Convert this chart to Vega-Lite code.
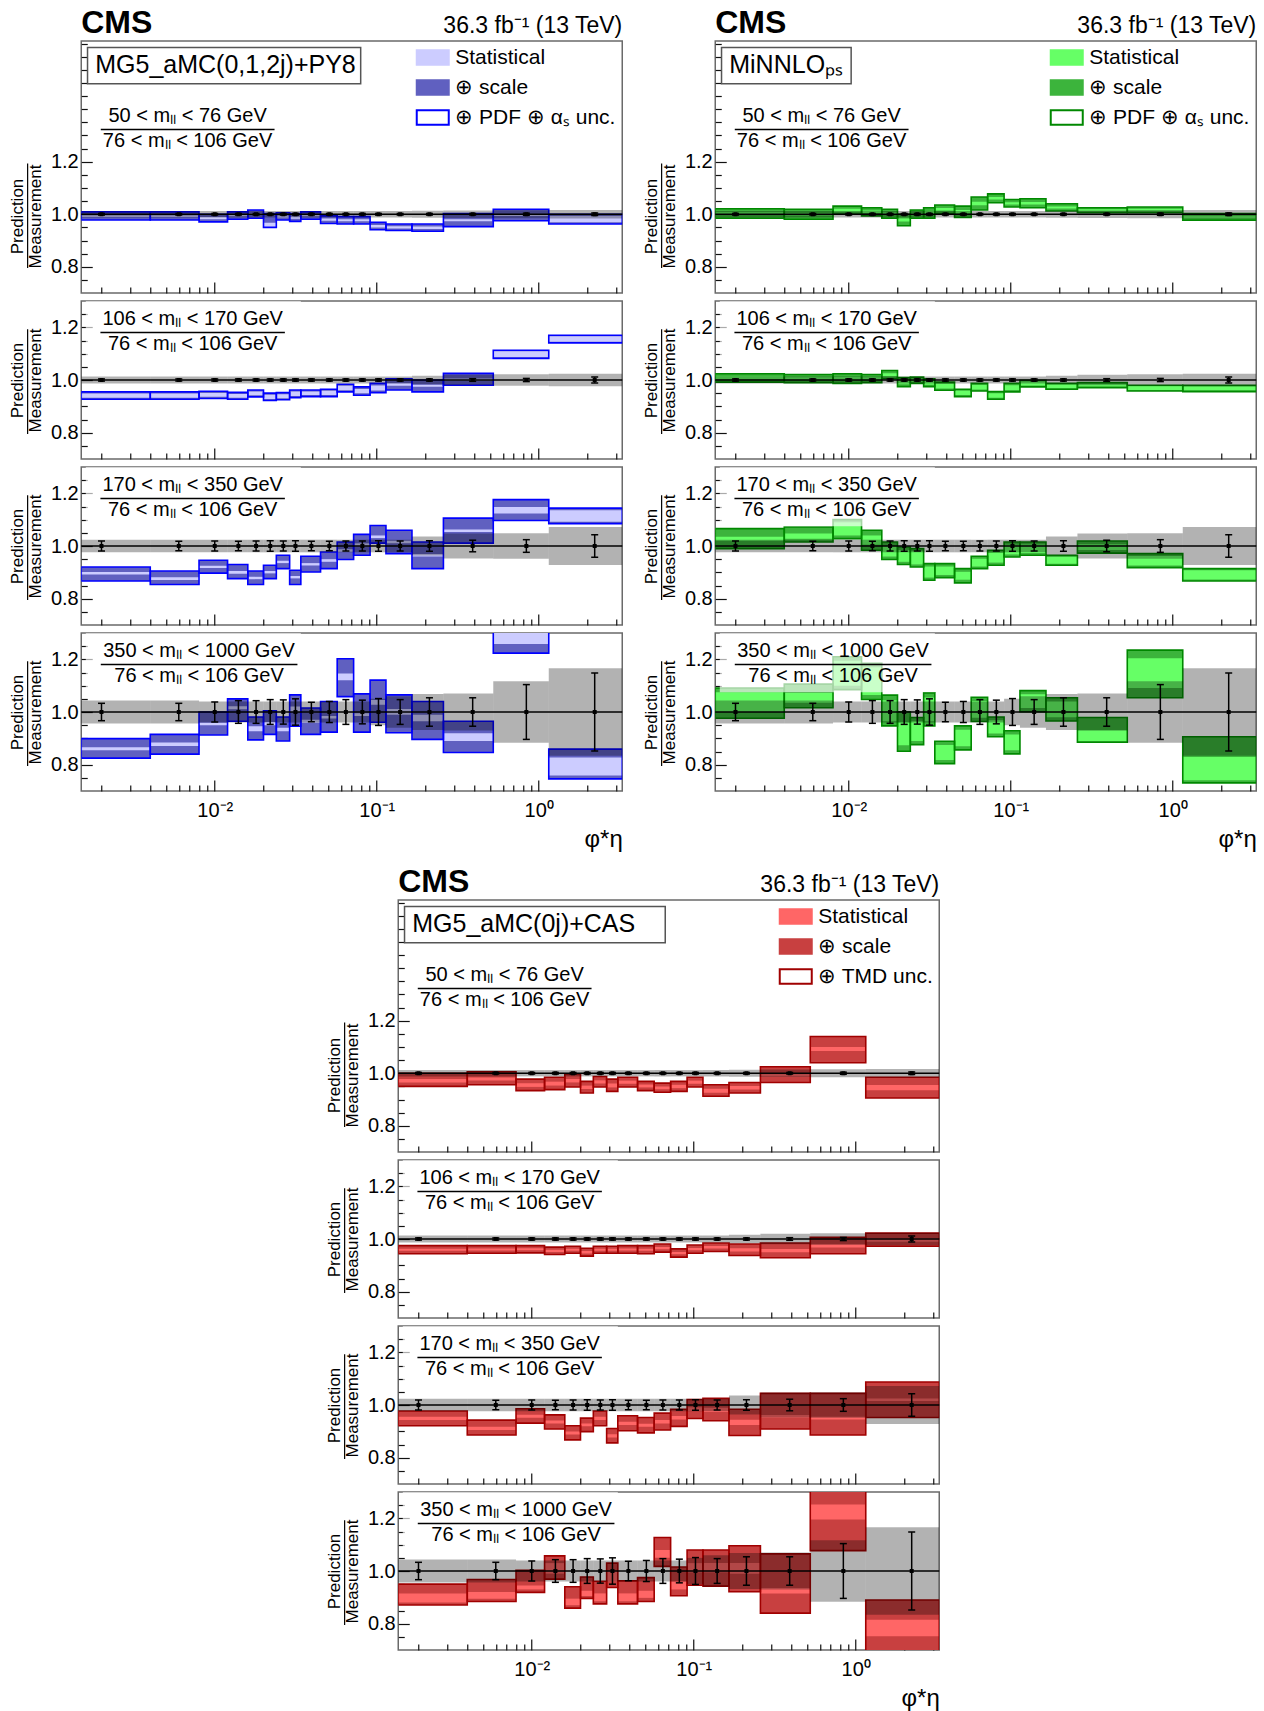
{
"$schema": "https://vega.github.io/schema/vega-lite/v6.json",
"background": "white",
"padding": {"left": 7, "top": 6, "right": 2, "bottom": 0},
"config": {
  "font": "Liberation Sans",
  "view": {"stroke": "#6a6a6a", "strokeWidth": 1.5},
  "axis": {"domain": false, "grid": false, "tickColor": "#111111", "tickWidth": 1.2, "labelColor": "#000000", "titleColor": "#000000", "titleFontWeight": "normal", "labelFont": "Liberation Sans", "titleFont": "Liberation Sans", "labelOverlap": false, "labelFlush": false},
  "legend": {"orient": "top-right", "offset": 6, "padding": 0, "labelFont": "Liberation Sans", "labelFontSize": 21, "labelColor": "#000000", "symbolType": "M-2,-0.9H2V0.9H-2Z", "symbolSize": 256, "symbolStrokeWidth": 2, "labelOffset": 12, "rowPadding": 7, "labelLimit": 400}
},
"datasets": {
"bins": [
{"b":1,"x1":0.0015,"x2":0.004,"xc":0.002},{"b":2,"x1":0.004,"x2":0.008,"xc":0.006},{"b":3,"x1":0.008,"x2":0.012,"xc":0.01},{"b":4,"x1":0.012,"x2":0.016,"xc":0.014},{"b":5,"x1":0.016,"x2":0.02,"xc":0.018},{"b":6,"x1":0.02,"x2":0.024,"xc":0.022},{"b":7,"x1":0.024,"x2":0.029,"xc":0.0265},{"b":8,"x1":0.029,"x2":0.034,"xc":0.0315},{"b":9,"x1":0.034,"x2":0.045,"xc":0.0395},{"b":10,"x1":0.045,"x2":0.057,"xc":0.051},{"b":11,"x1":0.057,"x2":0.072,"xc":0.0645},{"b":12,"x1":0.072,"x2":0.091,"xc":0.0815},{"b":13,"x1":0.091,"x2":0.114,"xc":0.1025},{"b":14,"x1":0.114,"x2":0.165,"xc":0.1395},{"b":15,"x1":0.165,"x2":0.258,"xc":0.2115},{"b":16,"x1":0.258,"x2":0.524,"xc":0.391},{"b":17,"x1":0.524,"x2":1.153,"xc":0.8385},{"b":18,"x1":1.153,"x2":3.277,"xc":2.215}
],
"meas": [
{"s":1,"b":1,"g1":0.988,"g2":1.012,"e1":0.997,"e2":1.003},{"s":1,"b":2,"g1":0.988,"g2":1.012,"e1":0.997,"e2":1.003},{"s":1,"b":3,"g1":0.988,"g2":1.012,"e1":0.997,"e2":1.003},{"s":1,"b":4,"g1":0.988,"g2":1.012,"e1":0.997,"e2":1.003},{"s":1,"b":5,"g1":0.988,"g2":1.012,"e1":0.997,"e2":1.003},{"s":1,"b":6,"g1":0.988,"g2":1.012,"e1":0.997,"e2":1.003},{"s":1,"b":7,"g1":0.988,"g2":1.012,"e1":0.997,"e2":1.003},{"s":1,"b":8,"g1":0.988,"g2":1.012,"e1":0.997,"e2":1.003},{"s":1,"b":9,"g1":0.988,"g2":1.012,"e1":0.997,"e2":1.003},{"s":1,"b":10,"g1":0.988,"g2":1.012,"e1":0.997,"e2":1.003},{"s":1,"b":11,"g1":0.988,"g2":1.012,"e1":0.997,"e2":1.003},{"s":1,"b":12,"g1":0.988,"g2":1.012,"e1":0.997,"e2":1.003},{"s":1,"b":13,"g1":0.988,"g2":1.012,"e1":0.997,"e2":1.003},{"s":1,"b":14,"g1":0.988,"g2":1.012,"e1":0.997,"e2":1.003},{"s":1,"b":15,"g1":0.987,"g2":1.013,"e1":0.997,"e2":1.003},{"s":1,"b":16,"g1":0.986,"g2":1.014,"e1":0.997,"e2":1.003},{"s":1,"b":17,"g1":0.985,"g2":1.015,"e1":0.996,"e2":1.004},{"s":1,"b":18,"g1":0.984,"g2":1.016,"e1":0.995,"e2":1.005},
{"s":2,"b":1,"g1":0.987,"g2":1.013,"e1":0.996,"e2":1.004},{"s":2,"b":2,"g1":0.987,"g2":1.013,"e1":0.996,"e2":1.004},{"s":2,"b":3,"g1":0.987,"g2":1.013,"e1":0.996,"e2":1.004},{"s":2,"b":4,"g1":0.987,"g2":1.013,"e1":0.996,"e2":1.004},{"s":2,"b":5,"g1":0.987,"g2":1.013,"e1":0.996,"e2":1.004},{"s":2,"b":6,"g1":0.987,"g2":1.013,"e1":0.996,"e2":1.004},{"s":2,"b":7,"g1":0.987,"g2":1.013,"e1":0.996,"e2":1.004},{"s":2,"b":8,"g1":0.987,"g2":1.013,"e1":0.996,"e2":1.004},{"s":2,"b":9,"g1":0.987,"g2":1.013,"e1":0.996,"e2":1.004},{"s":2,"b":10,"g1":0.987,"g2":1.013,"e1":0.996,"e2":1.004},{"s":2,"b":11,"g1":0.987,"g2":1.013,"e1":0.996,"e2":1.004},{"s":2,"b":12,"g1":0.987,"g2":1.013,"e1":0.996,"e2":1.004},{"s":2,"b":13,"g1":0.987,"g2":1.013,"e1":0.996,"e2":1.004},{"s":2,"b":14,"g1":0.987,"g2":1.013,"e1":0.996,"e2":1.004},{"s":2,"b":15,"g1":0.984,"g2":1.016,"e1":0.996,"e2":1.004},{"s":2,"b":16,"g1":0.98,"g2":1.02,"e1":0.995,"e2":1.005},{"s":2,"b":17,"g1":0.978,"g2":1.022,"e1":0.994,"e2":1.006},{"s":2,"b":18,"g1":0.976,"g2":1.024,"e1":0.989,"e2":1.011},
{"s":3,"b":1,"g1":0.976,"g2":1.024,"e1":0.981,"e2":1.019},{"s":3,"b":2,"g1":0.976,"g2":1.024,"e1":0.982,"e2":1.018},{"s":3,"b":3,"g1":0.976,"g2":1.024,"e1":0.981,"e2":1.019},{"s":3,"b":4,"g1":0.976,"g2":1.024,"e1":0.982,"e2":1.018},{"s":3,"b":5,"g1":0.976,"g2":1.024,"e1":0.981,"e2":1.019},{"s":3,"b":6,"g1":0.976,"g2":1.024,"e1":0.98,"e2":1.02},{"s":3,"b":7,"g1":0.976,"g2":1.024,"e1":0.981,"e2":1.019},{"s":3,"b":8,"g1":0.976,"g2":1.024,"e1":0.98,"e2":1.02},{"s":3,"b":9,"g1":0.976,"g2":1.024,"e1":0.982,"e2":1.018},{"s":3,"b":10,"g1":0.976,"g2":1.024,"e1":0.982,"e2":1.018},{"s":3,"b":11,"g1":0.976,"g2":1.024,"e1":0.981,"e2":1.019},{"s":3,"b":12,"g1":0.976,"g2":1.024,"e1":0.981,"e2":1.019},{"s":3,"b":13,"g1":0.976,"g2":1.024,"e1":0.98,"e2":1.02},{"s":3,"b":14,"g1":0.976,"g2":1.024,"e1":0.981,"e2":1.019},{"s":3,"b":15,"g1":0.964,"g2":1.036,"e1":0.98,"e2":1.02},{"s":3,"b":16,"g1":0.953,"g2":1.047,"e1":0.978,"e2":1.022},{"s":3,"b":17,"g1":0.952,"g2":1.048,"e1":0.976,"e2":1.024},{"s":3,"b":18,"g1":0.928,"g2":1.072,"e1":0.957,"e2":1.043},
{"s":4,"b":1,"g1":0.956,"g2":1.044,"e1":0.967,"e2":1.033},{"s":4,"b":2,"g1":0.956,"g2":1.044,"e1":0.967,"e2":1.033},{"s":4,"b":3,"g1":0.96,"g2":1.04,"e1":0.962,"e2":1.038},{"s":4,"b":4,"g1":0.96,"g2":1.04,"e1":0.957,"e2":1.043},{"s":4,"b":5,"g1":0.96,"g2":1.04,"e1":0.957,"e2":1.043},{"s":4,"b":6,"g1":0.96,"g2":1.04,"e1":0.953,"e2":1.047},{"s":4,"b":7,"g1":0.96,"g2":1.04,"e1":0.954,"e2":1.046},{"s":4,"b":8,"g1":0.96,"g2":1.04,"e1":0.95,"e2":1.05},{"s":4,"b":9,"g1":0.96,"g2":1.04,"e1":0.963,"e2":1.037},{"s":4,"b":10,"g1":0.96,"g2":1.04,"e1":0.96,"e2":1.04},{"s":4,"b":11,"g1":0.96,"g2":1.04,"e1":0.953,"e2":1.047},{"s":4,"b":12,"g1":0.96,"g2":1.04,"e1":0.955,"e2":1.045},{"s":4,"b":13,"g1":0.95,"g2":1.05,"e1":0.949,"e2":1.051},{"s":4,"b":14,"g1":0.94,"g2":1.06,"e1":0.953,"e2":1.047},{"s":4,"b":15,"g1":0.932,"g2":1.068,"e1":0.946,"e2":1.054},{"s":4,"b":16,"g1":0.93,"g2":1.07,"e1":0.946,"e2":1.054},{"s":4,"b":17,"g1":0.883,"g2":1.117,"e1":0.896,"e2":1.104},{"s":4,"b":18,"g1":0.834,"g2":1.166,"e1":0.852,"e2":1.148}
],
"pred": [
{"p":1,"s":1,"b":1,"t1":0.978,"t2":1.009,"a1":0.99,"a2":0.996},{"p":1,"s":1,"b":2,"t1":0.978,"t2":1.009,"a1":0.99,"a2":0.996},{"p":1,"s":1,"b":3,"t1":0.971,"t2":1.0,"a1":0.981,"a2":0.99},{"p":1,"s":1,"b":4,"t1":0.981,"t2":1.009,"a1":0.992,"a2":0.998},{"p":1,"s":1,"b":5,"t1":0.985,"t2":1.016,"a1":0.997,"a2":1.004},{"p":1,"s":1,"b":6,"t1":0.95,"t2":1.003,"a1":0.951,"a2":0.968},{"p":1,"s":1,"b":7,"t1":0.978,"t2":1.006,"a1":0.988,"a2":0.995},{"p":1,"s":1,"b":8,"t1":0.973,"t2":1.003,"a1":0.983,"a2":0.991},{"p":1,"s":1,"b":9,"t1":0.981,"t2":1.009,"a1":0.992,"a2":0.998},{"p":1,"s":1,"b":10,"t1":0.965,"t2":0.994,"a1":0.975,"a2":0.984},{"p":1,"s":1,"b":11,"t1":0.963,"t2":0.991,"a1":0.973,"a2":0.981},{"p":1,"s":1,"b":12,"t1":0.963,"t2":0.991,"a1":0.973,"a2":0.981},{"p":1,"s":1,"b":13,"t1":0.941,"t2":0.969,"a1":0.95,"a2":0.959},{"p":1,"s":1,"b":14,"t1":0.938,"t2":0.963,"a1":0.946,"a2":0.954},{"p":1,"s":1,"b":15,"t1":0.935,"t2":0.963,"a1":0.944,"a2":0.953},{"p":1,"s":1,"b":16,"t1":0.953,"t2":1.003,"a1":0.973,"a2":0.981},{"p":1,"s":1,"b":17,"t1":0.975,"t2":1.019,"a1":0.993,"a2":1.0},{"p":1,"s":1,"b":18,"t1":0.963,"t2":1.0,"a1":0.97,"a2":0.993},
{"p":1,"s":2,"b":1,"t1":0.927,"t2":0.955,"a1":0.933,"a2":0.949},{"p":1,"s":2,"b":2,"t1":0.927,"t2":0.955,"a1":0.933,"a2":0.949},{"p":1,"s":2,"b":3,"t1":0.93,"t2":0.957,"a1":0.936,"a2":0.951},{"p":1,"s":2,"b":4,"t1":0.927,"t2":0.953,"a1":0.933,"a2":0.947},{"p":1,"s":2,"b":5,"t1":0.936,"t2":0.962,"a1":0.942,"a2":0.956},{"p":1,"s":2,"b":6,"t1":0.922,"t2":0.95,"a1":0.928,"a2":0.944},{"p":1,"s":2,"b":7,"t1":0.925,"t2":0.952,"a1":0.931,"a2":0.946},{"p":1,"s":2,"b":8,"t1":0.933,"t2":0.962,"a1":0.939,"a2":0.956},{"p":1,"s":2,"b":9,"t1":0.937,"t2":0.962,"a1":0.943,"a2":0.956},{"p":1,"s":2,"b":10,"t1":0.937,"t2":0.965,"a1":0.943,"a2":0.959},{"p":1,"s":2,"b":11,"t1":0.955,"t2":0.984,"a1":0.961,"a2":0.978},{"p":1,"s":2,"b":12,"t1":0.942,"t2":0.974,"a1":0.95,"a2":0.966},{"p":1,"s":2,"b":13,"t1":0.952,"t2":0.987,"a1":0.96,"a2":0.979},{"p":1,"s":2,"b":14,"t1":0.962,"t2":1.005,"a1":0.978,"a2":0.988},{"p":1,"s":2,"b":15,"t1":0.955,"t2":1.0,"a1":0.974,"a2":0.982},{"p":1,"s":2,"b":16,"t1":0.98,"t2":1.025,"a1":0.998,"a2":1.006},{"p":1,"s":2,"b":17,"t1":1.082,"t2":1.113,"a1":1.086,"a2":1.109},{"p":1,"s":2,"b":18,"t1":1.141,"t2":1.17,"a1":1.145,"a2":1.166},
{"p":1,"s":3,"b":1,"t1":0.867,"t2":0.92,"a1":0.892,"a2":0.901},{"p":1,"s":3,"b":2,"t1":0.854,"t2":0.905,"a1":0.871,"a2":0.881},{"p":1,"s":3,"b":3,"t1":0.897,"t2":0.946,"a1":0.916,"a2":0.925},{"p":1,"s":3,"b":4,"t1":0.876,"t2":0.93,"a1":0.895,"a2":0.905},{"p":1,"s":3,"b":5,"t1":0.854,"t2":0.905,"a1":0.874,"a2":0.883},{"p":1,"s":3,"b":6,"t1":0.876,"t2":0.927,"a1":0.896,"a2":0.905},{"p":1,"s":3,"b":7,"t1":0.914,"t2":0.965,"a1":0.935,"a2":0.944},{"p":1,"s":3,"b":8,"t1":0.854,"t2":0.908,"a1":0.877,"a2":0.886},{"p":1,"s":3,"b":9,"t1":0.901,"t2":0.961,"a1":0.926,"a2":0.935},{"p":1,"s":3,"b":10,"t1":0.914,"t2":0.977,"a1":0.94,"a2":0.95},{"p":1,"s":3,"b":11,"t1":0.949,"t2":1.015,"a1":0.978,"a2":0.988},{"p":1,"s":3,"b":12,"t1":0.965,"t2":1.044,"a1":0.999,"a2":1.01},{"p":1,"s":3,"b":13,"t1":1.011,"t2":1.078,"a1":1.03,"a2":1.04},{"p":1,"s":3,"b":14,"t1":0.971,"t2":1.06,"a1":1.01,"a2":1.02},{"p":1,"s":3,"b":15,"t1":0.914,"t2":1.015,"a1":0.96,"a2":0.97},{"p":1,"s":3,"b":16,"t1":1.011,"t2":1.106,"a1":1.053,"a2":1.063},{"p":1,"s":3,"b":17,"t1":1.097,"t2":1.176,"a1":1.123,"a2":1.148},{"p":1,"s":3,"b":18,"t1":1.085,"t2":1.144,"a1":1.092,"a2":1.136},
{"p":1,"s":4,"b":1,"t1":0.825,"t2":0.899,"a1":0.855,"a2":0.866},{"p":1,"s":4,"b":2,"t1":0.84,"t2":0.915,"a1":0.871,"a2":0.884},{"p":1,"s":4,"b":3,"t1":0.9125,"t2":1.0,"a1":0.95,"a2":0.959},{"p":1,"s":4,"b":4,"t1":0.965,"t2":1.05,"a1":1.01,"a2":1.022},{"p":1,"s":4,"b":5,"t1":0.894,"t2":0.981,"a1":0.927,"a2":0.946},{"p":1,"s":4,"b":6,"t1":0.915,"t2":1.005,"a1":0.95,"a2":0.962},{"p":1,"s":4,"b":7,"t1":0.89,"t2":0.981,"a1":0.927,"a2":0.94},{"p":1,"s":4,"b":8,"t1":0.946,"t2":1.065,"a1":1.0,"a2":1.021},{"p":1,"s":4,"b":9,"t1":0.915,"t2":1.015,"a1":0.959,"a2":0.971},{"p":1,"s":4,"b":10,"t1":0.9235,"t2":1.04,"a1":0.975,"a2":0.985},{"p":1,"s":4,"b":11,"t1":1.0585,"t2":1.2025,"a1":1.121,"a2":1.146},{"p":1,"s":4,"b":12,"t1":0.9235,"t2":1.069,"a1":0.985,"a2":0.995},{"p":1,"s":4,"b":13,"t1":0.961,"t2":1.121,"a1":1.028,"a2":1.046},{"p":1,"s":4,"b":14,"t1":0.921,"t2":1.065,"a1":0.99,"a2":1.011},{"p":1,"s":4,"b":15,"t1":0.896,"t2":1.04,"a1":0.965,"a2":0.99},{"p":1,"s":4,"b":16,"t1":0.846,"t2":0.965,"a1":0.89,"a2":0.919},{"p":1,"s":4,"b":17,"t1":1.2235,"t2":1.36,"a1":1.258,"a2":1.36},{"p":1,"s":4,"b":18,"t1":0.746,"t2":0.859,"a1":0.759,"a2":0.8275},
{"p":2,"s":1,"b":1,"t1":0.985,"t2":1.021,"a1":0.998,"a2":1.008},{"p":2,"s":1,"b":2,"t1":0.981,"t2":1.019,"a1":0.995,"a2":1.005},{"p":2,"s":1,"b":3,"t1":1.0,"t2":1.031,"a1":1.01,"a2":1.021},{"p":2,"s":1,"b":4,"t1":0.994,"t2":1.025,"a1":1.005,"a2":1.014},{"p":2,"s":1,"b":5,"t1":0.985,"t2":1.019,"a1":0.997,"a2":1.007},{"p":2,"s":1,"b":6,"t1":0.956,"t2":1.0,"a1":0.972,"a2":0.984},{"p":2,"s":1,"b":7,"t1":0.985,"t2":1.016,"a1":0.996,"a2":1.005},{"p":2,"s":1,"b":8,"t1":0.985,"t2":1.025,"a1":0.999,"a2":1.011},{"p":2,"s":1,"b":9,"t1":1.0025,"t2":1.035,"a1":1.014,"a2":1.024},{"p":2,"s":1,"b":10,"t1":0.9875,"t2":1.031,"a1":1.003,"a2":1.016},{"p":2,"s":1,"b":11,"t1":1.016,"t2":1.066,"a1":1.034,"a2":1.048},{"p":2,"s":1,"b":12,"t1":1.044,"t2":1.0775,"a1":1.056,"a2":1.066},{"p":2,"s":1,"b":13,"t1":1.0275,"t2":1.056,"a1":1.037,"a2":1.046},{"p":2,"s":1,"b":14,"t1":1.025,"t2":1.059,"a1":1.037,"a2":1.047},{"p":2,"s":1,"b":15,"t1":1.0125,"t2":1.04,"a1":1.022,"a2":1.03},{"p":2,"s":1,"b":16,"t1":1.006,"t2":1.025,"a1":1.012,"a2":1.019},{"p":2,"s":1,"b":17,"t1":1.006,"t2":1.0275,"a1":1.013,"a2":1.021},{"p":2,"s":1,"b":18,"t1":0.9775,"t2":1.0025,"a1":0.986,"a2":0.994},
{"p":2,"s":2,"b":1,"t1":0.992,"t2":1.024,"a1":1.003,"a2":1.013},{"p":2,"s":2,"b":2,"t1":0.99,"t2":1.021,"a1":1.001,"a2":1.01},{"p":2,"s":2,"b":3,"t1":0.987,"t2":1.024,"a1":1.0,"a2":1.011},{"p":2,"s":2,"b":4,"t1":0.99,"t2":1.021,"a1":1.001,"a2":1.01},{"p":2,"s":2,"b":5,"t1":1.005,"t2":1.036,"a1":1.015,"a2":1.026},{"p":2,"s":2,"b":6,"t1":0.975,"t2":1.009,"a1":0.984,"a2":1.0},{"p":2,"s":2,"b":7,"t1":0.987,"t2":1.011,"a1":0.993,"a2":1.005},{"p":2,"s":2,"b":8,"t1":0.975,"t2":1.005,"a1":0.982,"a2":0.998},{"p":2,"s":2,"b":9,"t1":0.961,"t2":0.992,"a1":0.968,"a2":0.985},{"p":2,"s":2,"b":10,"t1":0.937,"t2":0.965,"a1":0.943,"a2":0.959},{"p":2,"s":2,"b":11,"t1":0.958,"t2":0.987,"a1":0.964,"a2":0.981},{"p":2,"s":2,"b":12,"t1":0.927,"t2":0.956,"a1":0.933,"a2":0.95},{"p":2,"s":2,"b":13,"t1":0.955,"t2":0.987,"a1":0.962,"a2":0.98},{"p":2,"s":2,"b":14,"t1":0.974,"t2":0.999,"a1":0.979,"a2":0.994},{"p":2,"s":2,"b":15,"t1":0.965,"t2":0.987,"a1":0.969,"a2":0.983},{"p":2,"s":2,"b":16,"t1":0.971,"t2":0.99,"a1":0.975,"a2":0.986},{"p":2,"s":2,"b":17,"t1":0.958,"t2":0.98,"a1":0.962,"a2":0.976},{"p":2,"s":2,"b":18,"t1":0.956,"t2":0.98,"a1":0.961,"a2":0.975},
{"p":2,"s":3,"b":1,"t1":0.99,"t2":1.066,"a1":1.02,"a2":1.035},{"p":2,"s":3,"b":2,"t1":1.015,"t2":1.072,"a1":1.028,"a2":1.047},{"p":2,"s":3,"b":3,"t1":1.028,"t2":1.1,"a1":1.04,"a2":1.09},{"p":2,"s":3,"b":4,"t1":0.984,"t2":1.06,"a1":1.005,"a2":1.04},{"p":2,"s":3,"b":5,"t1":0.949,"t2":1.015,"a1":0.96,"a2":1.0},{"p":2,"s":3,"b":6,"t1":0.93,"t2":0.996,"a1":0.94,"a2":0.985},{"p":2,"s":3,"b":7,"t1":0.92,"t2":0.99,"a1":0.93,"a2":0.98},{"p":2,"s":3,"b":8,"t1":0.87,"t2":0.933,"a1":0.88,"a2":0.922},{"p":2,"s":3,"b":9,"t1":0.88,"t2":0.933,"a1":0.89,"a2":0.922},{"p":2,"s":3,"b":10,"t1":0.86,"t2":0.914,"a1":0.872,"a2":0.902},{"p":2,"s":3,"b":11,"t1":0.914,"t2":0.961,"a1":0.922,"a2":0.952},{"p":2,"s":3,"b":12,"t1":0.927,"t2":0.984,"a1":0.937,"a2":0.974},{"p":2,"s":3,"b":13,"t1":0.958,"t2":1.015,"a1":0.968,"a2":1.005},{"p":2,"s":3,"b":14,"t1":0.965,"t2":1.015,"a1":0.973,"a2":1.006},{"p":2,"s":3,"b":15,"t1":0.927,"t2":0.965,"a1":0.933,"a2":0.958},{"p":2,"s":3,"b":16,"t1":0.973,"t2":1.019,"a1":0.985,"a2":1.007},{"p":2,"s":3,"b":17,"t1":0.918,"t2":0.971,"a1":0.926,"a2":0.962},{"p":2,"s":3,"b":18,"t1":0.867,"t2":0.914,"a1":0.873,"a2":0.908},
{"p":2,"s":4,"b":1,"t1":0.976,"t2":1.091,"a1":1.0,"a2":1.075},{"p":2,"s":4,"b":2,"t1":1.016,"t2":1.106,"a1":1.035,"a2":1.072},{"p":2,"s":4,"b":3,"t1":1.085,"t2":1.21,"a1":1.1,"a2":1.195},{"p":2,"s":4,"b":4,"t1":1.0475,"t2":1.185,"a1":1.065,"a2":1.17},{"p":2,"s":4,"b":5,"t1":0.9475,"t2":1.064,"a1":0.965,"a2":1.045},{"p":2,"s":4,"b":6,"t1":0.851,"t2":1.001,"a1":0.874,"a2":0.96},{"p":2,"s":4,"b":7,"t1":0.876,"t2":0.979,"a1":0.89,"a2":0.965},{"p":2,"s":4,"b":8,"t1":0.9475,"t2":1.0725,"a1":0.965,"a2":1.055},{"p":2,"s":4,"b":9,"t1":0.804,"t2":0.889,"a1":0.818,"a2":0.875},{"p":2,"s":4,"b":10,"t1":0.856,"t2":0.9475,"a1":0.87,"a2":0.933},{"p":2,"s":4,"b":11,"t1":0.964,"t2":1.056,"a1":0.978,"a2":1.042},{"p":2,"s":4,"b":12,"t1":0.906,"t2":0.981,"a1":0.918,"a2":0.969},{"p":2,"s":4,"b":13,"t1":0.841,"t2":0.929,"a1":0.855,"a2":0.915},{"p":2,"s":4,"b":14,"t1":1.001,"t2":1.081,"a1":1.015,"a2":1.067},{"p":2,"s":4,"b":15,"t1":0.966,"t2":1.054,"a1":0.98,"a2":1.04},{"p":2,"s":4,"b":16,"t1":0.885,"t2":0.979,"a1":0.89,"a2":0.931},{"p":2,"s":4,"b":17,"t1":1.054,"t2":1.235,"a1":1.091,"a2":1.204},{"p":2,"s":4,"b":18,"t1":0.731,"t2":0.906,"a1":0.741,"a2":0.829},
{"p":3,"s":1,"b":1,"t1":0.95,"t2":1.0,"a1":0.965,"a2":0.978},{"p":3,"s":1,"b":2,"t1":0.956,"t2":1.006,"a1":0.972,"a2":0.984},{"p":3,"s":1,"b":3,"t1":0.934,"t2":0.9775,"a1":0.948,"a2":0.962},{"p":3,"s":1,"b":4,"t1":0.9375,"t2":0.985,"a1":0.953,"a2":0.968},{"p":3,"s":1,"b":5,"t1":0.9475,"t2":0.9975,"a1":0.965,"a2":0.978},{"p":3,"s":1,"b":6,"t1":0.925,"t2":0.969,"a1":0.94,"a2":0.953},{"p":3,"s":1,"b":7,"t1":0.9475,"t2":0.9875,"a1":0.961,"a2":0.973},{"p":3,"s":1,"b":8,"t1":0.931,"t2":0.9775,"a1":0.946,"a2":0.961},{"p":3,"s":1,"b":9,"t1":0.9475,"t2":0.985,"a1":0.96,"a2":0.972},{"p":3,"s":1,"b":10,"t1":0.934,"t2":0.969,"a1":0.946,"a2":0.957},{"p":3,"s":1,"b":11,"t1":0.9275,"t2":0.9625,"a1":0.939,"a2":0.95},{"p":3,"s":1,"b":12,"t1":0.931,"t2":0.969,"a1":0.943,"a2":0.956},{"p":3,"s":1,"b":13,"t1":0.9475,"t2":0.985,"a1":0.96,"a2":0.972},{"p":3,"s":1,"b":14,"t1":0.9125,"t2":0.956,"a1":0.926,"a2":0.941},{"p":3,"s":1,"b":15,"t1":0.925,"t2":0.965,"a1":0.938,"a2":0.951},{"p":3,"s":1,"b":16,"t1":0.965,"t2":1.025,"a1":0.988,"a2":1.001},{"p":3,"s":1,"b":17,"t1":1.04,"t2":1.14,"a1":1.085,"a2":1.1},{"p":3,"s":1,"b":18,"t1":0.906,"t2":0.985,"a1":0.935,"a2":0.955},
{"p":3,"s":2,"b":1,"t1":0.944,"t2":0.975,"a1":0.955,"a2":0.963},{"p":3,"s":2,"b":2,"t1":0.946,"t2":0.975,"a1":0.956,"a2":0.964},{"p":3,"s":2,"b":3,"t1":0.9475,"t2":0.975,"a1":0.957,"a2":0.965},{"p":3,"s":2,"b":4,"t1":0.941,"t2":0.969,"a1":0.951,"a2":0.959},{"p":3,"s":2,"b":5,"t1":0.946,"t2":0.9725,"a1":0.955,"a2":0.963},{"p":3,"s":2,"b":6,"t1":0.935,"t2":0.965,"a1":0.945,"a2":0.954},{"p":3,"s":2,"b":7,"t1":0.946,"t2":0.9725,"a1":0.955,"a2":0.963},{"p":3,"s":2,"b":8,"t1":0.946,"t2":0.9725,"a1":0.955,"a2":0.963},{"p":3,"s":2,"b":9,"t1":0.946,"t2":0.975,"a1":0.956,"a2":0.964},{"p":3,"s":2,"b":10,"t1":0.944,"t2":0.975,"a1":0.955,"a2":0.963},{"p":3,"s":2,"b":11,"t1":0.95,"t2":0.981,"a1":0.961,"a2":0.97},{"p":3,"s":2,"b":12,"t1":0.931,"t2":0.9625,"a1":0.942,"a2":0.951},{"p":3,"s":2,"b":13,"t1":0.946,"t2":0.9775,"a1":0.957,"a2":0.966},{"p":3,"s":2,"b":14,"t1":0.9525,"t2":0.985,"a1":0.964,"a2":0.973},{"p":3,"s":2,"b":15,"t1":0.9375,"t2":0.981,"a1":0.953,"a2":0.965},{"p":3,"s":2,"b":16,"t1":0.929,"t2":0.985,"a1":0.95,"a2":0.962},{"p":3,"s":2,"b":17,"t1":0.944,"t2":1.006,"a1":0.968,"a2":0.98},{"p":3,"s":2,"b":18,"t1":0.9725,"t2":1.0225,"a1":0.99,"a2":1.003},
{"p":3,"s":3,"b":1,"t1":0.921,"t2":0.9775,"a1":0.943,"a2":0.955},{"p":3,"s":3,"b":2,"t1":0.886,"t2":0.9425,"a1":0.905,"a2":0.917},{"p":3,"s":3,"b":3,"t1":0.931,"t2":0.986,"a1":0.952,"a2":0.963},{"p":3,"s":3,"b":4,"t1":0.909,"t2":0.9625,"a1":0.93,"a2":0.941},{"p":3,"s":3,"b":5,"t1":0.8675,"t2":0.921,"a1":0.888,"a2":0.899},{"p":3,"s":3,"b":6,"t1":0.899,"t2":0.95,"a1":0.919,"a2":0.93},{"p":3,"s":3,"b":7,"t1":0.921,"t2":0.9775,"a1":0.943,"a2":0.955},{"p":3,"s":3,"b":8,"t1":0.856,"t2":0.911,"a1":0.877,"a2":0.889},{"p":3,"s":3,"b":9,"t1":0.9025,"t2":0.959,"a1":0.924,"a2":0.936},{"p":3,"s":3,"b":10,"t1":0.894,"t2":0.9525,"a1":0.917,"a2":0.929},{"p":3,"s":3,"b":11,"t1":0.905,"t2":0.969,"a1":0.93,"a2":0.943},{"p":3,"s":3,"b":12,"t1":0.919,"t2":0.984,"a1":0.945,"a2":0.958},{"p":3,"s":3,"b":13,"t1":0.949,"t2":1.021,"a1":0.977,"a2":0.991},{"p":3,"s":3,"b":14,"t1":0.94,"t2":1.025,"a1":0.973,"a2":0.99},{"p":3,"s":3,"b":15,"t1":0.884,"t2":0.984,"a1":0.924,"a2":0.944},{"p":3,"s":3,"b":16,"t1":0.909,"t2":1.044,"a1":0.952,"a2":0.962},{"p":3,"s":3,"b":17,"t1":0.886,"t2":1.044,"a1":0.945,"a2":0.955},{"p":3,"s":3,"b":18,"t1":0.9525,"t2":1.0875,"a1":1.015,"a2":1.025},
{"p":3,"s":4,"b":1,"t1":0.871,"t2":0.95,"a1":0.88,"a2":0.915},{"p":3,"s":4,"b":2,"t1":0.884,"t2":0.9675,"a1":0.895,"a2":0.92},{"p":3,"s":4,"b":3,"t1":0.919,"t2":1.0025,"a1":0.93,"a2":0.945},{"p":3,"s":4,"b":4,"t1":0.969,"t2":1.0575,"a1":0.99,"a2":1.03},{"p":3,"s":4,"b":5,"t1":0.859,"t2":0.94,"a1":0.87,"a2":0.895},{"p":3,"s":4,"b":6,"t1":0.896,"t2":0.9775,"a1":0.905,"a2":0.925},{"p":3,"s":4,"b":7,"t1":0.875,"t2":0.961,"a1":0.885,"a2":0.915},{"p":3,"s":4,"b":8,"t1":0.9375,"t2":1.03,"a1":0.96,"a2":1.0},{"p":3,"s":4,"b":9,"t1":0.875,"t2":0.9625,"a1":0.885,"a2":0.915},{"p":3,"s":4,"b":10,"t1":0.884,"t2":0.975,"a1":0.898,"a2":0.925},{"p":3,"s":4,"b":11,"t1":1.0175,"t2":1.1275,"a1":1.05,"a2":1.08},{"p":3,"s":4,"b":12,"t1":0.906,"t2":1.015,"a1":0.93,"a2":0.96},{"p":3,"s":4,"b":13,"t1":0.946,"t2":1.08,"a1":0.995,"a2":1.03},{"p":3,"s":4,"b":14,"t1":0.9425,"t2":1.08,"a1":0.995,"a2":1.03},{"p":3,"s":4,"b":15,"t1":0.921,"t2":1.096,"a1":0.99,"a2":1.03},{"p":3,"s":4,"b":16,"t1":0.84,"t2":1.065,"a1":0.915,"a2":0.935},{"p":3,"s":4,"b":17,"t1":1.0775,"t2":1.36,"a1":1.196,"a2":1.2525},{"p":3,"s":4,"b":18,"t1":0.65,"t2":0.89,"a1":0.7525,"a2":0.815}
]
},
"spacing": 13,
"center": true,
"resolve": {"scale": {"fill": "independent", "stroke": "independent"}, "legend": {"fill": "independent", "stroke": "independent"}},
"vconcat": [
{"hconcat": [
{"vconcat": [
{"width": 541, "height": 252, "resolve": {"axis": {"y": "independent"}}, "layer": [
{"data":{"name":"pred"},"transform":[{"filter":"datum.p==1&&datum.s==1"},{"lookup":"b","from":{"data":{"name":"bins"},"key":"b","fields":["x1","x2","xc"]}}],"mark":{"type":"rect","clip":true},"encoding":{"x":{"field":"x1","type":"quantitative","scale":{"type":"log","domain":[0.0015,3.277],"nice":false},"axis":{"values":[0.002,0.003,0.004,0.005,0.006,0.007,0.008,0.009,0.01,0.02,0.03,0.04,0.05,0.06,0.07,0.08,0.09,0.1,0.2,0.3,0.4,0.5,0.6,0.7,0.8,0.9,1,2,3],"labels":false,"title":null,"tickSize":{"condition":{"test":"datum.value==0.01||datum.value==0.1||datum.value==1","value":-11},"value":-6}}},"x2":{"field":"x2"},"y":{"field":"t1","type":"quantitative","scale":{"domain":[0.7,1.66],"nice":false,"zero":false},"axis":{"orient":"left","values":[0.8,1,1.2],"format":".1f","labelFontSize":20,"labelPadding":14,"tickSize":-11,"title":["Prediction","Measurement"],"titleFontSize":17,"titleLineHeight":18,"titlePadding":6,"titleY":175}},"y2":{"field":"t2"},"fill":{"datum":"⊕ scale","scale":{"domain":["Statistical","⊕ scale","⊕ PDF ⊕ αₛ unc."],"range":["#ccccff","#6060c0","transparent"]},"legend":{"title":null}}}},
{"data":{"name":"pred"},"transform":[{"filter":"datum.p==1&&datum.s==1"},{"lookup":"b","from":{"data":{"name":"bins"},"key":"b","fields":["x1","x2","xc"]}}],"mark":{"type":"rect","clip":true},"encoding":{"x":{"field":"x1","type":"quantitative"},"x2":{"field":"x2"},"y":{"field":"a1","type":"quantitative","axis":{"orient":"left","values":[0.75,0.85,0.9,0.95,1.05,1.1,1.15,1.25,1.3,1.35,1.4,1.45,1.5,1.55,1.6,1.65],"labels":false,"title":null,"tickSize":-6}},"y2":{"field":"a2"},"fill":{"datum":"Statistical"}}},
{"data":{"name":"pred"},"transform":[{"filter":"datum.p==1&&datum.s==1"},{"lookup":"b","from":{"data":{"name":"bins"},"key":"b","fields":["x1","x2","xc"]}}],"mark":{"type":"rect","clip":true,"strokeWidth":1.6},"encoding":{"x":{"field":"x1","type":"quantitative"},"x2":{"field":"x2"},"y":{"field":"t1","type":"quantitative","axis":null},"y2":{"field":"t2"},"fill":{"datum":"⊕ PDF ⊕ αₛ unc."},"stroke":{"datum":"⊕ PDF ⊕ αₛ unc.","scale":{"domain":["Statistical","⊕ scale","⊕ PDF ⊕ αₛ unc."],"range":["#ccccff","#6060c0","#0000ff"]},"legend":{"title":null}}}},
{"data":{"name":"meas"},"transform":[{"filter":"datum.s==1"},{"lookup":"b","from":{"data":{"name":"bins"},"key":"b","fields":["x1","x2","xc"]}}],"mark":{"type":"rect","clip":true,"color":"#000000","opacity":0.3},"encoding":{"x":{"field":"x1","type":"quantitative"},"x2":{"field":"x2"},"y":{"field":"g1","type":"quantitative","axis":null},"y2":{"field":"g2"}}},
{"data":{"values":[{}]},"mark":{"type":"rule","color":"#000000","strokeWidth":1.5},"encoding":{"y":{"datum":1,"axis":null}}},
{"data":{"name":"meas"},"transform":[{"filter":"datum.s==1"},{"lookup":"b","from":{"data":{"name":"bins"},"key":"b","fields":["x1","x2","xc"]}}],"mark":{"type":"rule","color":"#000000","strokeWidth":1.5},"encoding":{"x":{"field":"xc","type":"quantitative"},"y":{"field":"e1","type":"quantitative","axis":null},"y2":{"field":"e2"}}},
{"data":{"name":"meas"},"transform":[{"filter":"datum.s==1"},{"lookup":"b","from":{"data":{"name":"bins"},"key":"b","fields":["x1","x2","xc"]}},{"fold":["e1","e2"],"as":["k","ev"]}],"mark":{"type":"tick","orient":"horizontal","size":7,"thickness":1.5,"color":"#000000","opacity":1},"encoding":{"x":{"field":"xc","type":"quantitative"},"y":{"field":"ev","type":"quantitative","axis":null}}},
{"data":{"name":"meas"},"transform":[{"filter":"datum.s==1"},{"lookup":"b","from":{"data":{"name":"bins"},"key":"b","fields":["x1","x2","xc"]}}],"mark":{"type":"square","color":"#000000","size":16,"opacity":1},"encoding":{"x":{"field":"xc","type":"quantitative"},"y":{"datum":1,"axis":null}}},
{"data":{"values":[{}]},"mark":{"type":"text","text":"50 < mₗₗ < 76 GeV","fontSize":20,"align":"center","baseline":"alphabetic"},"encoding":{"x":{"datum":0.0068},"y":{"datum":1.35,"axis":null}}},
{"data":{"values":[{}]},"mark":{"type":"text","text":"76 < mₗₗ < 106 GeV","fontSize":20,"align":"center","baseline":"alphabetic"},"encoding":{"x":{"datum":0.0068},"y":{"datum":1.2565,"axis":null}}},
{"data":{"values":[{}]},"mark":{"type":"rule","color":"#000000","strokeWidth":1.5},"encoding":{"x":{"datum":0.00198},"x2":{"datum":0.0234},"y":{"datum":1.3225,"axis":null}}},
{"data":{"values":[{}]},"mark":{"type":"rule","color":"#000000","strokeWidth":1.2},"encoding":{"x":{"datum":0.0007},"y":{"datum":0.795,"axis":null},"y2":{"datum":1.193}}},
{"data":{"values":[{}]},"mark":{"type":"rect","fill":"#ffffff","stroke":"#555555","strokeWidth":1.5},"encoding":{"x":{"datum":0.00164},"x2":{"datum":0.0796},"y":{"datum":1.4975,"axis":null},"y2":{"datum":1.635}}},
{"data":{"values":[{}]},"mark":{"type":"text","text":"MG5_aMC(0,1,2j)+PY8","fontSize":25,"align":"left","baseline":"alphabetic"},"encoding":{"x":{"datum":0.00183},"y":{"datum":1.54,"axis":null}}},
{"data":{"values":[{}]},"mark":{"type":"text","text":"CMS","fontSize":32,"fontWeight":"bold","align":"left","baseline":"alphabetic","dy":-8},"encoding":{"x":{"datum":0.0015},"y":{"datum":1.66,"axis":null}}},
{"data":{"values":[{}]},"mark":{"type":"text","text":"36.3 fb⁻¹ (13 TeV)","fontSize":23,"align":"right","baseline":"alphabetic","dy":-8},"encoding":{"x":{"datum":3.277},"y":{"datum":1.66,"axis":null}}}
]},
{"width": 541, "height": 158, "resolve": {"axis": {"y": "independent"}}, "layer": [
{"data":{"name":"pred"},"transform":[{"filter":"datum.p==1&&datum.s==2"},{"lookup":"b","from":{"data":{"name":"bins"},"key":"b","fields":["x1","x2","xc"]}}],"mark":{"type":"rect","clip":true,"color":"#6060c0"},"encoding":{"x":{"field":"x1","type":"quantitative","scale":{"type":"log","domain":[0.0015,3.277],"nice":false},"axis":{"values":[0.002,0.003,0.004,0.005,0.006,0.007,0.008,0.009,0.01,0.02,0.03,0.04,0.05,0.06,0.07,0.08,0.09,0.1,0.2,0.3,0.4,0.5,0.6,0.7,0.8,0.9,1,2,3],"labels":false,"title":null,"tickSize":{"condition":{"test":"datum.value==0.01||datum.value==0.1||datum.value==1","value":-11},"value":-6}}},"x2":{"field":"x2"},"y":{"field":"t1","type":"quantitative","scale":{"domain":[0.7,1.3],"nice":false,"zero":false},"axis":{"orient":"left","values":[0.8,1,1.2],"format":".1f","labelFontSize":20,"labelPadding":14,"tickSize":-11,"title":["Prediction","Measurement"],"titleFontSize":17,"titleLineHeight":18,"titlePadding":6}},"y2":{"field":"t2"}}},
{"data":{"name":"pred"},"transform":[{"filter":"datum.p==1&&datum.s==2"},{"lookup":"b","from":{"data":{"name":"bins"},"key":"b","fields":["x1","x2","xc"]}}],"mark":{"type":"rect","clip":true,"color":"#ccccff"},"encoding":{"x":{"field":"x1","type":"quantitative"},"x2":{"field":"x2"},"y":{"field":"a1","type":"quantitative","axis":{"orient":"left","values":[0.75,0.85,0.9,0.95,1.05,1.1,1.15,1.25],"labels":false,"title":null,"tickSize":-6}},"y2":{"field":"a2"}}},
{"data":{"name":"pred"},"transform":[{"filter":"datum.p==1&&datum.s==2"},{"lookup":"b","from":{"data":{"name":"bins"},"key":"b","fields":["x1","x2","xc"]}}],"mark":{"type":"rect","clip":true,"filled":false,"color":"#0000ff","strokeWidth":1.6},"encoding":{"x":{"field":"x1","type":"quantitative"},"x2":{"field":"x2"},"y":{"field":"t1","type":"quantitative","axis":null},"y2":{"field":"t2"}}},
{"data":{"name":"meas"},"transform":[{"filter":"datum.s==2"},{"lookup":"b","from":{"data":{"name":"bins"},"key":"b","fields":["x1","x2","xc"]}}],"mark":{"type":"rect","clip":true,"color":"#000000","opacity":0.3},"encoding":{"x":{"field":"x1","type":"quantitative"},"x2":{"field":"x2"},"y":{"field":"g1","type":"quantitative","axis":null},"y2":{"field":"g2"}}},
{"data":{"values":[{}]},"mark":{"type":"rect","color":"#ffffff","opacity":0.65},"encoding":{"x":{"datum":0.0016},"x2":{"datum":0.034},"y":{"datum":1.075,"axis":null},"y2":{"datum":1.3}}},
{"data":{"values":[{}]},"mark":{"type":"rule","color":"#000000","strokeWidth":1.5},"encoding":{"y":{"datum":1,"axis":null}}},
{"data":{"name":"meas"},"transform":[{"filter":"datum.s==2"},{"lookup":"b","from":{"data":{"name":"bins"},"key":"b","fields":["x1","x2","xc"]}}],"mark":{"type":"rule","color":"#000000","strokeWidth":1.5},"encoding":{"x":{"field":"xc","type":"quantitative"},"y":{"field":"e1","type":"quantitative","axis":null},"y2":{"field":"e2"}}},
{"data":{"name":"meas"},"transform":[{"filter":"datum.s==2"},{"lookup":"b","from":{"data":{"name":"bins"},"key":"b","fields":["x1","x2","xc"]}},{"fold":["e1","e2"],"as":["k","ev"]}],"mark":{"type":"tick","orient":"horizontal","size":7,"thickness":1.5,"color":"#000000","opacity":1},"encoding":{"x":{"field":"xc","type":"quantitative"},"y":{"field":"ev","type":"quantitative","axis":null}}},
{"data":{"name":"meas"},"transform":[{"filter":"datum.s==2"},{"lookup":"b","from":{"data":{"name":"bins"},"key":"b","fields":["x1","x2","xc"]}}],"mark":{"type":"square","color":"#000000","size":16,"opacity":1},"encoding":{"x":{"field":"xc","type":"quantitative"},"y":{"datum":1,"axis":null}}},
{"data":{"values":[{}]},"mark":{"type":"text","text":"106 < mₗₗ < 170 GeV","fontSize":20,"align":"center","baseline":"alphabetic"},"encoding":{"x":{"datum":0.00731},"y":{"datum":1.2085,"axis":null}}},
{"data":{"values":[{}]},"mark":{"type":"text","text":"76 < mₗₗ < 106 GeV","fontSize":20,"align":"center","baseline":"alphabetic"},"encoding":{"x":{"datum":0.00731},"y":{"datum":1.115,"axis":null}}},
{"data":{"values":[{}]},"mark":{"type":"rule","color":"#000000","strokeWidth":1.5},"encoding":{"x":{"datum":0.00197},"x2":{"datum":0.0271},"y":{"datum":1.18,"axis":null}}},
{"data":{"values":[{}]},"mark":{"type":"rule","color":"#000000","strokeWidth":1.2},"encoding":{"x":{"datum":0.0007},"y":{"datum":0.795,"axis":null},"y2":{"datum":1.193}}}
]},
{"width": 541, "height": 158, "resolve": {"axis": {"y": "independent"}}, "layer": [
{"data":{"name":"pred"},"transform":[{"filter":"datum.p==1&&datum.s==3"},{"lookup":"b","from":{"data":{"name":"bins"},"key":"b","fields":["x1","x2","xc"]}}],"mark":{"type":"rect","clip":true,"color":"#6060c0"},"encoding":{"x":{"field":"x1","type":"quantitative","scale":{"type":"log","domain":[0.0015,3.277],"nice":false},"axis":{"values":[0.002,0.003,0.004,0.005,0.006,0.007,0.008,0.009,0.01,0.02,0.03,0.04,0.05,0.06,0.07,0.08,0.09,0.1,0.2,0.3,0.4,0.5,0.6,0.7,0.8,0.9,1,2,3],"labels":false,"title":null,"tickSize":{"condition":{"test":"datum.value==0.01||datum.value==0.1||datum.value==1","value":-11},"value":-6}}},"x2":{"field":"x2"},"y":{"field":"t1","type":"quantitative","scale":{"domain":[0.7,1.3],"nice":false,"zero":false},"axis":{"orient":"left","values":[0.8,1,1.2],"format":".1f","labelFontSize":20,"labelPadding":14,"tickSize":-11,"title":["Prediction","Measurement"],"titleFontSize":17,"titleLineHeight":18,"titlePadding":6}},"y2":{"field":"t2"}}},
{"data":{"name":"pred"},"transform":[{"filter":"datum.p==1&&datum.s==3"},{"lookup":"b","from":{"data":{"name":"bins"},"key":"b","fields":["x1","x2","xc"]}}],"mark":{"type":"rect","clip":true,"color":"#ccccff"},"encoding":{"x":{"field":"x1","type":"quantitative"},"x2":{"field":"x2"},"y":{"field":"a1","type":"quantitative","axis":{"orient":"left","values":[0.75,0.85,0.9,0.95,1.05,1.1,1.15,1.25],"labels":false,"title":null,"tickSize":-6}},"y2":{"field":"a2"}}},
{"data":{"name":"pred"},"transform":[{"filter":"datum.p==1&&datum.s==3"},{"lookup":"b","from":{"data":{"name":"bins"},"key":"b","fields":["x1","x2","xc"]}}],"mark":{"type":"rect","clip":true,"filled":false,"color":"#0000ff","strokeWidth":1.6},"encoding":{"x":{"field":"x1","type":"quantitative"},"x2":{"field":"x2"},"y":{"field":"t1","type":"quantitative","axis":null},"y2":{"field":"t2"}}},
{"data":{"name":"meas"},"transform":[{"filter":"datum.s==3"},{"lookup":"b","from":{"data":{"name":"bins"},"key":"b","fields":["x1","x2","xc"]}}],"mark":{"type":"rect","clip":true,"color":"#000000","opacity":0.3},"encoding":{"x":{"field":"x1","type":"quantitative"},"x2":{"field":"x2"},"y":{"field":"g1","type":"quantitative","axis":null},"y2":{"field":"g2"}}},
{"data":{"values":[{}]},"mark":{"type":"rect","color":"#ffffff","opacity":0.65},"encoding":{"x":{"datum":0.0016},"x2":{"datum":0.034},"y":{"datum":1.075,"axis":null},"y2":{"datum":1.3}}},
{"data":{"values":[{}]},"mark":{"type":"rule","color":"#000000","strokeWidth":1.5},"encoding":{"y":{"datum":1,"axis":null}}},
{"data":{"name":"meas"},"transform":[{"filter":"datum.s==3"},{"lookup":"b","from":{"data":{"name":"bins"},"key":"b","fields":["x1","x2","xc"]}}],"mark":{"type":"rule","color":"#000000","strokeWidth":1.5},"encoding":{"x":{"field":"xc","type":"quantitative"},"y":{"field":"e1","type":"quantitative","axis":null},"y2":{"field":"e2"}}},
{"data":{"name":"meas"},"transform":[{"filter":"datum.s==3"},{"lookup":"b","from":{"data":{"name":"bins"},"key":"b","fields":["x1","x2","xc"]}},{"fold":["e1","e2"],"as":["k","ev"]}],"mark":{"type":"tick","orient":"horizontal","size":7,"thickness":1.5,"color":"#000000","opacity":1},"encoding":{"x":{"field":"xc","type":"quantitative"},"y":{"field":"ev","type":"quantitative","axis":null}}},
{"data":{"name":"meas"},"transform":[{"filter":"datum.s==3"},{"lookup":"b","from":{"data":{"name":"bins"},"key":"b","fields":["x1","x2","xc"]}}],"mark":{"type":"square","color":"#000000","size":16,"opacity":1},"encoding":{"x":{"field":"xc","type":"quantitative"},"y":{"datum":1,"axis":null}}},
{"data":{"values":[{}]},"mark":{"type":"text","text":"170 < mₗₗ < 350 GeV","fontSize":20,"align":"center","baseline":"alphabetic"},"encoding":{"x":{"datum":0.00731},"y":{"datum":1.2085,"axis":null}}},
{"data":{"values":[{}]},"mark":{"type":"text","text":"76 < mₗₗ < 106 GeV","fontSize":20,"align":"center","baseline":"alphabetic"},"encoding":{"x":{"datum":0.00731},"y":{"datum":1.115,"axis":null}}},
{"data":{"values":[{}]},"mark":{"type":"rule","color":"#000000","strokeWidth":1.5},"encoding":{"x":{"datum":0.00197},"x2":{"datum":0.0271},"y":{"datum":1.18,"axis":null}}},
{"data":{"values":[{}]},"mark":{"type":"rule","color":"#000000","strokeWidth":1.2},"encoding":{"x":{"datum":0.0007},"y":{"datum":0.795,"axis":null},"y2":{"datum":1.193}}}
]},
{"width": 541, "height": 158, "resolve": {"axis": {"y": "independent"}}, "layer": [
{"data":{"name":"pred"},"transform":[{"filter":"datum.p==1&&datum.s==4"},{"lookup":"b","from":{"data":{"name":"bins"},"key":"b","fields":["x1","x2","xc"]}}],"mark":{"type":"rect","clip":true,"color":"#6060c0"},"encoding":{"x":{"field":"x1","type":"quantitative","scale":{"type":"log","domain":[0.0015,3.277],"nice":false},"axis":{"values":[0.002,0.003,0.004,0.005,0.006,0.007,0.008,0.009,0.01,0.02,0.03,0.04,0.05,0.06,0.07,0.08,0.09,0.1,0.2,0.3,0.4,0.5,0.6,0.7,0.8,0.9,1,2,3],"labelExpr":"datum.value==0.01?'10⁻²':datum.value==0.1?'10⁻¹':datum.value==1?'10⁰':''","labelFontSize":20,"labelPadding":20,"title":"φ*η","titleFontSize":24,"titleAnchor":"end","titlePadding":2,"tickSize":{"condition":{"test":"datum.value==0.01||datum.value==0.1||datum.value==1","value":-11},"value":-6}}},"x2":{"field":"x2"},"y":{"field":"t1","type":"quantitative","scale":{"domain":[0.7,1.3],"nice":false,"zero":false},"axis":{"orient":"left","values":[0.8,1,1.2],"format":".1f","labelFontSize":20,"labelPadding":14,"tickSize":-11,"title":["Prediction","Measurement"],"titleFontSize":17,"titleLineHeight":18,"titlePadding":6}},"y2":{"field":"t2"}}},
{"data":{"name":"pred"},"transform":[{"filter":"datum.p==1&&datum.s==4"},{"lookup":"b","from":{"data":{"name":"bins"},"key":"b","fields":["x1","x2","xc"]}}],"mark":{"type":"rect","clip":true,"color":"#ccccff"},"encoding":{"x":{"field":"x1","type":"quantitative"},"x2":{"field":"x2"},"y":{"field":"a1","type":"quantitative","axis":{"orient":"left","values":[0.75,0.85,0.9,0.95,1.05,1.1,1.15,1.25],"labels":false,"title":null,"tickSize":-6}},"y2":{"field":"a2"}}},
{"data":{"name":"pred"},"transform":[{"filter":"datum.p==1&&datum.s==4"},{"lookup":"b","from":{"data":{"name":"bins"},"key":"b","fields":["x1","x2","xc"]}}],"mark":{"type":"rect","clip":true,"filled":false,"color":"#0000ff","strokeWidth":1.6},"encoding":{"x":{"field":"x1","type":"quantitative"},"x2":{"field":"x2"},"y":{"field":"t1","type":"quantitative","axis":null},"y2":{"field":"t2"}}},
{"data":{"name":"meas"},"transform":[{"filter":"datum.s==4"},{"lookup":"b","from":{"data":{"name":"bins"},"key":"b","fields":["x1","x2","xc"]}}],"mark":{"type":"rect","clip":true,"color":"#000000","opacity":0.3},"encoding":{"x":{"field":"x1","type":"quantitative"},"x2":{"field":"x2"},"y":{"field":"g1","type":"quantitative","axis":null},"y2":{"field":"g2"}}},
{"data":{"values":[{}]},"mark":{"type":"rect","color":"#ffffff","opacity":0.65},"encoding":{"x":{"datum":0.0016},"x2":{"datum":0.034},"y":{"datum":1.075,"axis":null},"y2":{"datum":1.3}}},
{"data":{"values":[{}]},"mark":{"type":"rule","color":"#000000","strokeWidth":1.5},"encoding":{"y":{"datum":1,"axis":null}}},
{"data":{"name":"meas"},"transform":[{"filter":"datum.s==4"},{"lookup":"b","from":{"data":{"name":"bins"},"key":"b","fields":["x1","x2","xc"]}}],"mark":{"type":"rule","color":"#000000","strokeWidth":1.5},"encoding":{"x":{"field":"xc","type":"quantitative"},"y":{"field":"e1","type":"quantitative","axis":null},"y2":{"field":"e2"}}},
{"data":{"name":"meas"},"transform":[{"filter":"datum.s==4"},{"lookup":"b","from":{"data":{"name":"bins"},"key":"b","fields":["x1","x2","xc"]}},{"fold":["e1","e2"],"as":["k","ev"]}],"mark":{"type":"tick","orient":"horizontal","size":7,"thickness":1.5,"color":"#000000","opacity":1},"encoding":{"x":{"field":"xc","type":"quantitative"},"y":{"field":"ev","type":"quantitative","axis":null}}},
{"data":{"name":"meas"},"transform":[{"filter":"datum.s==4"},{"lookup":"b","from":{"data":{"name":"bins"},"key":"b","fields":["x1","x2","xc"]}}],"mark":{"type":"square","color":"#000000","size":16,"opacity":1},"encoding":{"x":{"field":"xc","type":"quantitative"},"y":{"datum":1,"axis":null}}},
{"data":{"values":[{}]},"mark":{"type":"text","text":"350 < mₗₗ < 1000 GeV","fontSize":20,"align":"center","baseline":"alphabetic"},"encoding":{"x":{"datum":0.008},"y":{"datum":1.2085,"axis":null}}},
{"data":{"values":[{}]},"mark":{"type":"text","text":"76 < mₗₗ < 106 GeV","fontSize":20,"align":"center","baseline":"alphabetic"},"encoding":{"x":{"datum":0.008},"y":{"datum":1.115,"axis":null}}},
{"data":{"values":[{}]},"mark":{"type":"rule","color":"#000000","strokeWidth":1.5},"encoding":{"x":{"datum":0.00198},"x2":{"datum":0.0324},"y":{"datum":1.18,"axis":null}}},
{"data":{"values":[{}]},"mark":{"type":"rule","color":"#000000","strokeWidth":1.2},"encoding":{"x":{"datum":0.0007},"y":{"datum":0.795,"axis":null},"y2":{"datum":1.193}}}
]}
], "spacing": 5, "resolve": {"scale": {"fill": "independent", "stroke": "independent"}, "legend": {"fill": "independent", "stroke": "independent"}}},
{"vconcat": [
{"width": 541, "height": 252, "resolve": {"axis": {"y": "independent"}}, "layer": [
{"data":{"name":"pred"},"transform":[{"filter":"datum.p==2&&datum.s==1"},{"lookup":"b","from":{"data":{"name":"bins"},"key":"b","fields":["x1","x2","xc"]}}],"mark":{"type":"rect","clip":true},"encoding":{"x":{"field":"x1","type":"quantitative","scale":{"type":"log","domain":[0.0015,3.277],"nice":false},"axis":{"values":[0.002,0.003,0.004,0.005,0.006,0.007,0.008,0.009,0.01,0.02,0.03,0.04,0.05,0.06,0.07,0.08,0.09,0.1,0.2,0.3,0.4,0.5,0.6,0.7,0.8,0.9,1,2,3],"labels":false,"title":null,"tickSize":{"condition":{"test":"datum.value==0.01||datum.value==0.1||datum.value==1","value":-11},"value":-6}}},"x2":{"field":"x2"},"y":{"field":"t1","type":"quantitative","scale":{"domain":[0.7,1.66],"nice":false,"zero":false},"axis":{"orient":"left","values":[0.8,1,1.2],"format":".1f","labelFontSize":20,"labelPadding":14,"tickSize":-11,"title":["Prediction","Measurement"],"titleFontSize":17,"titleLineHeight":18,"titlePadding":6,"titleY":175}},"y2":{"field":"t2"},"fill":{"datum":"⊕ scale","scale":{"domain":["Statistical","⊕ scale","⊕ PDF ⊕ αₛ unc."],"range":["#66ff66","#3cb43c","transparent"]},"legend":{"title":null}}}},
{"data":{"name":"pred"},"transform":[{"filter":"datum.p==2&&datum.s==1"},{"lookup":"b","from":{"data":{"name":"bins"},"key":"b","fields":["x1","x2","xc"]}}],"mark":{"type":"rect","clip":true},"encoding":{"x":{"field":"x1","type":"quantitative"},"x2":{"field":"x2"},"y":{"field":"a1","type":"quantitative","axis":{"orient":"left","values":[0.75,0.85,0.9,0.95,1.05,1.1,1.15,1.25,1.3,1.35,1.4,1.45,1.5,1.55,1.6,1.65],"labels":false,"title":null,"tickSize":-6}},"y2":{"field":"a2"},"fill":{"datum":"Statistical"}}},
{"data":{"name":"pred"},"transform":[{"filter":"datum.p==2&&datum.s==1"},{"lookup":"b","from":{"data":{"name":"bins"},"key":"b","fields":["x1","x2","xc"]}}],"mark":{"type":"rect","clip":true,"strokeWidth":1.6},"encoding":{"x":{"field":"x1","type":"quantitative"},"x2":{"field":"x2"},"y":{"field":"t1","type":"quantitative","axis":null},"y2":{"field":"t2"},"fill":{"datum":"⊕ PDF ⊕ αₛ unc."},"stroke":{"datum":"⊕ PDF ⊕ αₛ unc.","scale":{"domain":["Statistical","⊕ scale","⊕ PDF ⊕ αₛ unc."],"range":["#66ff66","#3cb43c","#008800"]},"legend":{"title":null}}}},
{"data":{"name":"meas"},"transform":[{"filter":"datum.s==1"},{"lookup":"b","from":{"data":{"name":"bins"},"key":"b","fields":["x1","x2","xc"]}}],"mark":{"type":"rect","clip":true,"color":"#000000","opacity":0.3},"encoding":{"x":{"field":"x1","type":"quantitative"},"x2":{"field":"x2"},"y":{"field":"g1","type":"quantitative","axis":null},"y2":{"field":"g2"}}},
{"data":{"values":[{}]},"mark":{"type":"rule","color":"#000000","strokeWidth":1.5},"encoding":{"y":{"datum":1,"axis":null}}},
{"data":{"name":"meas"},"transform":[{"filter":"datum.s==1"},{"lookup":"b","from":{"data":{"name":"bins"},"key":"b","fields":["x1","x2","xc"]}}],"mark":{"type":"rule","color":"#000000","strokeWidth":1.5},"encoding":{"x":{"field":"xc","type":"quantitative"},"y":{"field":"e1","type":"quantitative","axis":null},"y2":{"field":"e2"}}},
{"data":{"name":"meas"},"transform":[{"filter":"datum.s==1"},{"lookup":"b","from":{"data":{"name":"bins"},"key":"b","fields":["x1","x2","xc"]}},{"fold":["e1","e2"],"as":["k","ev"]}],"mark":{"type":"tick","orient":"horizontal","size":7,"thickness":1.5,"color":"#000000","opacity":1},"encoding":{"x":{"field":"xc","type":"quantitative"},"y":{"field":"ev","type":"quantitative","axis":null}}},
{"data":{"name":"meas"},"transform":[{"filter":"datum.s==1"},{"lookup":"b","from":{"data":{"name":"bins"},"key":"b","fields":["x1","x2","xc"]}}],"mark":{"type":"square","color":"#000000","size":16,"opacity":1},"encoding":{"x":{"field":"xc","type":"quantitative"},"y":{"datum":1,"axis":null}}},
{"data":{"values":[{}]},"mark":{"type":"text","text":"50 < mₗₗ < 76 GeV","fontSize":20,"align":"center","baseline":"alphabetic"},"encoding":{"x":{"datum":0.0068},"y":{"datum":1.35,"axis":null}}},
{"data":{"values":[{}]},"mark":{"type":"text","text":"76 < mₗₗ < 106 GeV","fontSize":20,"align":"center","baseline":"alphabetic"},"encoding":{"x":{"datum":0.0068},"y":{"datum":1.2565,"axis":null}}},
{"data":{"values":[{}]},"mark":{"type":"rule","color":"#000000","strokeWidth":1.5},"encoding":{"x":{"datum":0.00198},"x2":{"datum":0.0234},"y":{"datum":1.3225,"axis":null}}},
{"data":{"values":[{}]},"mark":{"type":"rule","color":"#000000","strokeWidth":1.2},"encoding":{"x":{"datum":0.0007},"y":{"datum":0.795,"axis":null},"y2":{"datum":1.193}}},
{"data":{"values":[{}]},"mark":{"type":"rect","fill":"#ffffff","stroke":"#555555","strokeWidth":1.5},"encoding":{"x":{"datum":0.00164},"x2":{"datum":0.01035},"y":{"datum":1.4975,"axis":null},"y2":{"datum":1.635}}},
{"data":{"values":[{}]},"mark":{"type":"text","text":"MiNNLOₚₛ","fontSize":25,"align":"left","baseline":"alphabetic"},"encoding":{"x":{"datum":0.00183},"y":{"datum":1.54,"axis":null}}},
{"data":{"values":[{}]},"mark":{"type":"text","text":"CMS","fontSize":32,"fontWeight":"bold","align":"left","baseline":"alphabetic","dy":-8},"encoding":{"x":{"datum":0.0015},"y":{"datum":1.66,"axis":null}}},
{"data":{"values":[{}]},"mark":{"type":"text","text":"36.3 fb⁻¹ (13 TeV)","fontSize":23,"align":"right","baseline":"alphabetic","dy":-8},"encoding":{"x":{"datum":3.277},"y":{"datum":1.66,"axis":null}}}
]},
{"width": 541, "height": 158, "resolve": {"axis": {"y": "independent"}}, "layer": [
{"data":{"name":"pred"},"transform":[{"filter":"datum.p==2&&datum.s==2"},{"lookup":"b","from":{"data":{"name":"bins"},"key":"b","fields":["x1","x2","xc"]}}],"mark":{"type":"rect","clip":true,"color":"#3cb43c"},"encoding":{"x":{"field":"x1","type":"quantitative","scale":{"type":"log","domain":[0.0015,3.277],"nice":false},"axis":{"values":[0.002,0.003,0.004,0.005,0.006,0.007,0.008,0.009,0.01,0.02,0.03,0.04,0.05,0.06,0.07,0.08,0.09,0.1,0.2,0.3,0.4,0.5,0.6,0.7,0.8,0.9,1,2,3],"labels":false,"title":null,"tickSize":{"condition":{"test":"datum.value==0.01||datum.value==0.1||datum.value==1","value":-11},"value":-6}}},"x2":{"field":"x2"},"y":{"field":"t1","type":"quantitative","scale":{"domain":[0.7,1.3],"nice":false,"zero":false},"axis":{"orient":"left","values":[0.8,1,1.2],"format":".1f","labelFontSize":20,"labelPadding":14,"tickSize":-11,"title":["Prediction","Measurement"],"titleFontSize":17,"titleLineHeight":18,"titlePadding":6}},"y2":{"field":"t2"}}},
{"data":{"name":"pred"},"transform":[{"filter":"datum.p==2&&datum.s==2"},{"lookup":"b","from":{"data":{"name":"bins"},"key":"b","fields":["x1","x2","xc"]}}],"mark":{"type":"rect","clip":true,"color":"#66ff66"},"encoding":{"x":{"field":"x1","type":"quantitative"},"x2":{"field":"x2"},"y":{"field":"a1","type":"quantitative","axis":{"orient":"left","values":[0.75,0.85,0.9,0.95,1.05,1.1,1.15,1.25],"labels":false,"title":null,"tickSize":-6}},"y2":{"field":"a2"}}},
{"data":{"name":"pred"},"transform":[{"filter":"datum.p==2&&datum.s==2"},{"lookup":"b","from":{"data":{"name":"bins"},"key":"b","fields":["x1","x2","xc"]}}],"mark":{"type":"rect","clip":true,"filled":false,"color":"#008800","strokeWidth":1.6},"encoding":{"x":{"field":"x1","type":"quantitative"},"x2":{"field":"x2"},"y":{"field":"t1","type":"quantitative","axis":null},"y2":{"field":"t2"}}},
{"data":{"name":"meas"},"transform":[{"filter":"datum.s==2"},{"lookup":"b","from":{"data":{"name":"bins"},"key":"b","fields":["x1","x2","xc"]}}],"mark":{"type":"rect","clip":true,"color":"#000000","opacity":0.3},"encoding":{"x":{"field":"x1","type":"quantitative"},"x2":{"field":"x2"},"y":{"field":"g1","type":"quantitative","axis":null},"y2":{"field":"g2"}}},
{"data":{"values":[{}]},"mark":{"type":"rect","color":"#ffffff","opacity":0.65},"encoding":{"x":{"datum":0.0016},"x2":{"datum":0.034},"y":{"datum":1.075,"axis":null},"y2":{"datum":1.3}}},
{"data":{"values":[{}]},"mark":{"type":"rule","color":"#000000","strokeWidth":1.5},"encoding":{"y":{"datum":1,"axis":null}}},
{"data":{"name":"meas"},"transform":[{"filter":"datum.s==2"},{"lookup":"b","from":{"data":{"name":"bins"},"key":"b","fields":["x1","x2","xc"]}}],"mark":{"type":"rule","color":"#000000","strokeWidth":1.5},"encoding":{"x":{"field":"xc","type":"quantitative"},"y":{"field":"e1","type":"quantitative","axis":null},"y2":{"field":"e2"}}},
{"data":{"name":"meas"},"transform":[{"filter":"datum.s==2"},{"lookup":"b","from":{"data":{"name":"bins"},"key":"b","fields":["x1","x2","xc"]}},{"fold":["e1","e2"],"as":["k","ev"]}],"mark":{"type":"tick","orient":"horizontal","size":7,"thickness":1.5,"color":"#000000","opacity":1},"encoding":{"x":{"field":"xc","type":"quantitative"},"y":{"field":"ev","type":"quantitative","axis":null}}},
{"data":{"name":"meas"},"transform":[{"filter":"datum.s==2"},{"lookup":"b","from":{"data":{"name":"bins"},"key":"b","fields":["x1","x2","xc"]}}],"mark":{"type":"square","color":"#000000","size":16,"opacity":1},"encoding":{"x":{"field":"xc","type":"quantitative"},"y":{"datum":1,"axis":null}}},
{"data":{"values":[{}]},"mark":{"type":"text","text":"106 < mₗₗ < 170 GeV","fontSize":20,"align":"center","baseline":"alphabetic"},"encoding":{"x":{"datum":0.00731},"y":{"datum":1.2085,"axis":null}}},
{"data":{"values":[{}]},"mark":{"type":"text","text":"76 < mₗₗ < 106 GeV","fontSize":20,"align":"center","baseline":"alphabetic"},"encoding":{"x":{"datum":0.00731},"y":{"datum":1.115,"axis":null}}},
{"data":{"values":[{}]},"mark":{"type":"rule","color":"#000000","strokeWidth":1.5},"encoding":{"x":{"datum":0.00197},"x2":{"datum":0.0271},"y":{"datum":1.18,"axis":null}}},
{"data":{"values":[{}]},"mark":{"type":"rule","color":"#000000","strokeWidth":1.2},"encoding":{"x":{"datum":0.0007},"y":{"datum":0.795,"axis":null},"y2":{"datum":1.193}}}
]},
{"width": 541, "height": 158, "resolve": {"axis": {"y": "independent"}}, "layer": [
{"data":{"name":"pred"},"transform":[{"filter":"datum.p==2&&datum.s==3"},{"lookup":"b","from":{"data":{"name":"bins"},"key":"b","fields":["x1","x2","xc"]}}],"mark":{"type":"rect","clip":true,"color":"#3cb43c"},"encoding":{"x":{"field":"x1","type":"quantitative","scale":{"type":"log","domain":[0.0015,3.277],"nice":false},"axis":{"values":[0.002,0.003,0.004,0.005,0.006,0.007,0.008,0.009,0.01,0.02,0.03,0.04,0.05,0.06,0.07,0.08,0.09,0.1,0.2,0.3,0.4,0.5,0.6,0.7,0.8,0.9,1,2,3],"labels":false,"title":null,"tickSize":{"condition":{"test":"datum.value==0.01||datum.value==0.1||datum.value==1","value":-11},"value":-6}}},"x2":{"field":"x2"},"y":{"field":"t1","type":"quantitative","scale":{"domain":[0.7,1.3],"nice":false,"zero":false},"axis":{"orient":"left","values":[0.8,1,1.2],"format":".1f","labelFontSize":20,"labelPadding":14,"tickSize":-11,"title":["Prediction","Measurement"],"titleFontSize":17,"titleLineHeight":18,"titlePadding":6}},"y2":{"field":"t2"}}},
{"data":{"name":"pred"},"transform":[{"filter":"datum.p==2&&datum.s==3"},{"lookup":"b","from":{"data":{"name":"bins"},"key":"b","fields":["x1","x2","xc"]}}],"mark":{"type":"rect","clip":true,"color":"#66ff66"},"encoding":{"x":{"field":"x1","type":"quantitative"},"x2":{"field":"x2"},"y":{"field":"a1","type":"quantitative","axis":{"orient":"left","values":[0.75,0.85,0.9,0.95,1.05,1.1,1.15,1.25],"labels":false,"title":null,"tickSize":-6}},"y2":{"field":"a2"}}},
{"data":{"name":"pred"},"transform":[{"filter":"datum.p==2&&datum.s==3"},{"lookup":"b","from":{"data":{"name":"bins"},"key":"b","fields":["x1","x2","xc"]}}],"mark":{"type":"rect","clip":true,"filled":false,"color":"#008800","strokeWidth":1.6},"encoding":{"x":{"field":"x1","type":"quantitative"},"x2":{"field":"x2"},"y":{"field":"t1","type":"quantitative","axis":null},"y2":{"field":"t2"}}},
{"data":{"name":"meas"},"transform":[{"filter":"datum.s==3"},{"lookup":"b","from":{"data":{"name":"bins"},"key":"b","fields":["x1","x2","xc"]}}],"mark":{"type":"rect","clip":true,"color":"#000000","opacity":0.3},"encoding":{"x":{"field":"x1","type":"quantitative"},"x2":{"field":"x2"},"y":{"field":"g1","type":"quantitative","axis":null},"y2":{"field":"g2"}}},
{"data":{"values":[{}]},"mark":{"type":"rect","color":"#ffffff","opacity":0.65},"encoding":{"x":{"datum":0.0016},"x2":{"datum":0.034},"y":{"datum":1.075,"axis":null},"y2":{"datum":1.3}}},
{"data":{"values":[{}]},"mark":{"type":"rule","color":"#000000","strokeWidth":1.5},"encoding":{"y":{"datum":1,"axis":null}}},
{"data":{"name":"meas"},"transform":[{"filter":"datum.s==3"},{"lookup":"b","from":{"data":{"name":"bins"},"key":"b","fields":["x1","x2","xc"]}}],"mark":{"type":"rule","color":"#000000","strokeWidth":1.5},"encoding":{"x":{"field":"xc","type":"quantitative"},"y":{"field":"e1","type":"quantitative","axis":null},"y2":{"field":"e2"}}},
{"data":{"name":"meas"},"transform":[{"filter":"datum.s==3"},{"lookup":"b","from":{"data":{"name":"bins"},"key":"b","fields":["x1","x2","xc"]}},{"fold":["e1","e2"],"as":["k","ev"]}],"mark":{"type":"tick","orient":"horizontal","size":7,"thickness":1.5,"color":"#000000","opacity":1},"encoding":{"x":{"field":"xc","type":"quantitative"},"y":{"field":"ev","type":"quantitative","axis":null}}},
{"data":{"name":"meas"},"transform":[{"filter":"datum.s==3"},{"lookup":"b","from":{"data":{"name":"bins"},"key":"b","fields":["x1","x2","xc"]}}],"mark":{"type":"square","color":"#000000","size":16,"opacity":1},"encoding":{"x":{"field":"xc","type":"quantitative"},"y":{"datum":1,"axis":null}}},
{"data":{"values":[{}]},"mark":{"type":"text","text":"170 < mₗₗ < 350 GeV","fontSize":20,"align":"center","baseline":"alphabetic"},"encoding":{"x":{"datum":0.00731},"y":{"datum":1.2085,"axis":null}}},
{"data":{"values":[{}]},"mark":{"type":"text","text":"76 < mₗₗ < 106 GeV","fontSize":20,"align":"center","baseline":"alphabetic"},"encoding":{"x":{"datum":0.00731},"y":{"datum":1.115,"axis":null}}},
{"data":{"values":[{}]},"mark":{"type":"rule","color":"#000000","strokeWidth":1.5},"encoding":{"x":{"datum":0.00197},"x2":{"datum":0.0271},"y":{"datum":1.18,"axis":null}}},
{"data":{"values":[{}]},"mark":{"type":"rule","color":"#000000","strokeWidth":1.2},"encoding":{"x":{"datum":0.0007},"y":{"datum":0.795,"axis":null},"y2":{"datum":1.193}}}
]},
{"width": 541, "height": 158, "resolve": {"axis": {"y": "independent"}}, "layer": [
{"data":{"name":"pred"},"transform":[{"filter":"datum.p==2&&datum.s==4"},{"lookup":"b","from":{"data":{"name":"bins"},"key":"b","fields":["x1","x2","xc"]}}],"mark":{"type":"rect","clip":true,"color":"#3cb43c"},"encoding":{"x":{"field":"x1","type":"quantitative","scale":{"type":"log","domain":[0.0015,3.277],"nice":false},"axis":{"values":[0.002,0.003,0.004,0.005,0.006,0.007,0.008,0.009,0.01,0.02,0.03,0.04,0.05,0.06,0.07,0.08,0.09,0.1,0.2,0.3,0.4,0.5,0.6,0.7,0.8,0.9,1,2,3],"labelExpr":"datum.value==0.01?'10⁻²':datum.value==0.1?'10⁻¹':datum.value==1?'10⁰':''","labelFontSize":20,"labelPadding":20,"title":"φ*η","titleFontSize":24,"titleAnchor":"end","titlePadding":2,"tickSize":{"condition":{"test":"datum.value==0.01||datum.value==0.1||datum.value==1","value":-11},"value":-6}}},"x2":{"field":"x2"},"y":{"field":"t1","type":"quantitative","scale":{"domain":[0.7,1.3],"nice":false,"zero":false},"axis":{"orient":"left","values":[0.8,1,1.2],"format":".1f","labelFontSize":20,"labelPadding":14,"tickSize":-11,"title":["Prediction","Measurement"],"titleFontSize":17,"titleLineHeight":18,"titlePadding":6}},"y2":{"field":"t2"}}},
{"data":{"name":"pred"},"transform":[{"filter":"datum.p==2&&datum.s==4"},{"lookup":"b","from":{"data":{"name":"bins"},"key":"b","fields":["x1","x2","xc"]}}],"mark":{"type":"rect","clip":true,"color":"#66ff66"},"encoding":{"x":{"field":"x1","type":"quantitative"},"x2":{"field":"x2"},"y":{"field":"a1","type":"quantitative","axis":{"orient":"left","values":[0.75,0.85,0.9,0.95,1.05,1.1,1.15,1.25],"labels":false,"title":null,"tickSize":-6}},"y2":{"field":"a2"}}},
{"data":{"name":"pred"},"transform":[{"filter":"datum.p==2&&datum.s==4"},{"lookup":"b","from":{"data":{"name":"bins"},"key":"b","fields":["x1","x2","xc"]}}],"mark":{"type":"rect","clip":true,"filled":false,"color":"#008800","strokeWidth":1.6},"encoding":{"x":{"field":"x1","type":"quantitative"},"x2":{"field":"x2"},"y":{"field":"t1","type":"quantitative","axis":null},"y2":{"field":"t2"}}},
{"data":{"name":"meas"},"transform":[{"filter":"datum.s==4"},{"lookup":"b","from":{"data":{"name":"bins"},"key":"b","fields":["x1","x2","xc"]}}],"mark":{"type":"rect","clip":true,"color":"#000000","opacity":0.3},"encoding":{"x":{"field":"x1","type":"quantitative"},"x2":{"field":"x2"},"y":{"field":"g1","type":"quantitative","axis":null},"y2":{"field":"g2"}}},
{"data":{"values":[{}]},"mark":{"type":"rect","color":"#ffffff","opacity":0.65},"encoding":{"x":{"datum":0.0016},"x2":{"datum":0.034},"y":{"datum":1.075,"axis":null},"y2":{"datum":1.3}}},
{"data":{"values":[{}]},"mark":{"type":"rule","color":"#000000","strokeWidth":1.5},"encoding":{"y":{"datum":1,"axis":null}}},
{"data":{"name":"meas"},"transform":[{"filter":"datum.s==4"},{"lookup":"b","from":{"data":{"name":"bins"},"key":"b","fields":["x1","x2","xc"]}}],"mark":{"type":"rule","color":"#000000","strokeWidth":1.5},"encoding":{"x":{"field":"xc","type":"quantitative"},"y":{"field":"e1","type":"quantitative","axis":null},"y2":{"field":"e2"}}},
{"data":{"name":"meas"},"transform":[{"filter":"datum.s==4"},{"lookup":"b","from":{"data":{"name":"bins"},"key":"b","fields":["x1","x2","xc"]}},{"fold":["e1","e2"],"as":["k","ev"]}],"mark":{"type":"tick","orient":"horizontal","size":7,"thickness":1.5,"color":"#000000","opacity":1},"encoding":{"x":{"field":"xc","type":"quantitative"},"y":{"field":"ev","type":"quantitative","axis":null}}},
{"data":{"name":"meas"},"transform":[{"filter":"datum.s==4"},{"lookup":"b","from":{"data":{"name":"bins"},"key":"b","fields":["x1","x2","xc"]}}],"mark":{"type":"square","color":"#000000","size":16,"opacity":1},"encoding":{"x":{"field":"xc","type":"quantitative"},"y":{"datum":1,"axis":null}}},
{"data":{"values":[{}]},"mark":{"type":"text","text":"350 < mₗₗ < 1000 GeV","fontSize":20,"align":"center","baseline":"alphabetic"},"encoding":{"x":{"datum":0.008},"y":{"datum":1.2085,"axis":null}}},
{"data":{"values":[{}]},"mark":{"type":"text","text":"76 < mₗₗ < 106 GeV","fontSize":20,"align":"center","baseline":"alphabetic"},"encoding":{"x":{"datum":0.008},"y":{"datum":1.115,"axis":null}}},
{"data":{"values":[{}]},"mark":{"type":"rule","color":"#000000","strokeWidth":1.5},"encoding":{"x":{"datum":0.00198},"x2":{"datum":0.0324},"y":{"datum":1.18,"axis":null}}},
{"data":{"values":[{}]},"mark":{"type":"rule","color":"#000000","strokeWidth":1.2},"encoding":{"x":{"datum":0.0007},"y":{"datum":0.795,"axis":null},"y2":{"datum":1.193}}}
]}
], "spacing": 5, "resolve": {"scale": {"fill": "independent", "stroke": "independent"}, "legend": {"fill": "independent", "stroke": "independent"}}}
], "spacing": 17, "resolve": {"scale": {"fill": "independent", "stroke": "independent"}, "legend": {"fill": "independent", "stroke": "independent"}}},
{"vconcat": [
{"width": 541, "height": 252, "resolve": {"axis": {"y": "independent"}}, "layer": [
{"data":{"name":"pred"},"transform":[{"filter":"datum.p==3&&datum.s==1"},{"lookup":"b","from":{"data":{"name":"bins"},"key":"b","fields":["x1","x2","xc"]}}],"mark":{"type":"rect","clip":true},"encoding":{"x":{"field":"x1","type":"quantitative","scale":{"type":"log","domain":[0.0015,3.277],"nice":false},"axis":{"values":[0.002,0.003,0.004,0.005,0.006,0.007,0.008,0.009,0.01,0.02,0.03,0.04,0.05,0.06,0.07,0.08,0.09,0.1,0.2,0.3,0.4,0.5,0.6,0.7,0.8,0.9,1,2,3],"labels":false,"title":null,"tickSize":{"condition":{"test":"datum.value==0.01||datum.value==0.1||datum.value==1","value":-11},"value":-6}}},"x2":{"field":"x2"},"y":{"field":"t1","type":"quantitative","scale":{"domain":[0.7,1.66],"nice":false,"zero":false},"axis":{"orient":"left","values":[0.8,1,1.2],"format":".1f","labelFontSize":20,"labelPadding":14,"tickSize":-11,"title":["Prediction","Measurement"],"titleFontSize":17,"titleLineHeight":18,"titlePadding":6,"titleY":175}},"y2":{"field":"t2"},"fill":{"datum":"⊕ scale","scale":{"domain":["Statistical","⊕ scale","⊕ TMD unc."],"range":["#ff6666","#c84040","transparent"]},"legend":{"title":null}}}},
{"data":{"name":"pred"},"transform":[{"filter":"datum.p==3&&datum.s==1"},{"lookup":"b","from":{"data":{"name":"bins"},"key":"b","fields":["x1","x2","xc"]}}],"mark":{"type":"rect","clip":true},"encoding":{"x":{"field":"x1","type":"quantitative"},"x2":{"field":"x2"},"y":{"field":"a1","type":"quantitative","axis":{"orient":"left","values":[0.75,0.85,0.9,0.95,1.05,1.1,1.15,1.25,1.3,1.35,1.4,1.45,1.5,1.55,1.6,1.65],"labels":false,"title":null,"tickSize":-6}},"y2":{"field":"a2"},"fill":{"datum":"Statistical"}}},
{"data":{"name":"pred"},"transform":[{"filter":"datum.p==3&&datum.s==1"},{"lookup":"b","from":{"data":{"name":"bins"},"key":"b","fields":["x1","x2","xc"]}}],"mark":{"type":"rect","clip":true,"strokeWidth":1.6},"encoding":{"x":{"field":"x1","type":"quantitative"},"x2":{"field":"x2"},"y":{"field":"t1","type":"quantitative","axis":null},"y2":{"field":"t2"},"fill":{"datum":"⊕ TMD unc."},"stroke":{"datum":"⊕ TMD unc.","scale":{"domain":["Statistical","⊕ scale","⊕ TMD unc."],"range":["#ff6666","#c84040","#a00000"]},"legend":{"title":null}}}},
{"data":{"name":"meas"},"transform":[{"filter":"datum.s==1"},{"lookup":"b","from":{"data":{"name":"bins"},"key":"b","fields":["x1","x2","xc"]}}],"mark":{"type":"rect","clip":true,"color":"#000000","opacity":0.3},"encoding":{"x":{"field":"x1","type":"quantitative"},"x2":{"field":"x2"},"y":{"field":"g1","type":"quantitative","axis":null},"y2":{"field":"g2"}}},
{"data":{"values":[{}]},"mark":{"type":"rule","color":"#000000","strokeWidth":1.5},"encoding":{"y":{"datum":1,"axis":null}}},
{"data":{"name":"meas"},"transform":[{"filter":"datum.s==1"},{"lookup":"b","from":{"data":{"name":"bins"},"key":"b","fields":["x1","x2","xc"]}}],"mark":{"type":"rule","color":"#000000","strokeWidth":1.5},"encoding":{"x":{"field":"xc","type":"quantitative"},"y":{"field":"e1","type":"quantitative","axis":null},"y2":{"field":"e2"}}},
{"data":{"name":"meas"},"transform":[{"filter":"datum.s==1"},{"lookup":"b","from":{"data":{"name":"bins"},"key":"b","fields":["x1","x2","xc"]}},{"fold":["e1","e2"],"as":["k","ev"]}],"mark":{"type":"tick","orient":"horizontal","size":7,"thickness":1.5,"color":"#000000","opacity":1},"encoding":{"x":{"field":"xc","type":"quantitative"},"y":{"field":"ev","type":"quantitative","axis":null}}},
{"data":{"name":"meas"},"transform":[{"filter":"datum.s==1"},{"lookup":"b","from":{"data":{"name":"bins"},"key":"b","fields":["x1","x2","xc"]}}],"mark":{"type":"square","color":"#000000","size":16,"opacity":1},"encoding":{"x":{"field":"xc","type":"quantitative"},"y":{"datum":1,"axis":null}}},
{"data":{"values":[{}]},"mark":{"type":"text","text":"50 < mₗₗ < 76 GeV","fontSize":20,"align":"center","baseline":"alphabetic"},"encoding":{"x":{"datum":0.0068},"y":{"datum":1.35,"axis":null}}},
{"data":{"values":[{}]},"mark":{"type":"text","text":"76 < mₗₗ < 106 GeV","fontSize":20,"align":"center","baseline":"alphabetic"},"encoding":{"x":{"datum":0.0068},"y":{"datum":1.2565,"axis":null}}},
{"data":{"values":[{}]},"mark":{"type":"rule","color":"#000000","strokeWidth":1.5},"encoding":{"x":{"datum":0.00198},"x2":{"datum":0.0234},"y":{"datum":1.3225,"axis":null}}},
{"data":{"values":[{}]},"mark":{"type":"rule","color":"#000000","strokeWidth":1.2},"encoding":{"x":{"datum":0.0007},"y":{"datum":0.795,"axis":null},"y2":{"datum":1.193}}},
{"data":{"values":[{}]},"mark":{"type":"rect","fill":"#ffffff","stroke":"#555555","strokeWidth":1.5},"encoding":{"x":{"datum":0.00164},"x2":{"datum":0.0667},"y":{"datum":1.4975,"axis":null},"y2":{"datum":1.635}}},
{"data":{"values":[{}]},"mark":{"type":"text","text":"MG5_aMC(0j)+CAS","fontSize":25,"align":"left","baseline":"alphabetic"},"encoding":{"x":{"datum":0.00183},"y":{"datum":1.54,"axis":null}}},
{"data":{"values":[{}]},"mark":{"type":"text","text":"CMS","fontSize":32,"fontWeight":"bold","align":"left","baseline":"alphabetic","dy":-8},"encoding":{"x":{"datum":0.0015},"y":{"datum":1.66,"axis":null}}},
{"data":{"values":[{}]},"mark":{"type":"text","text":"36.3 fb⁻¹ (13 TeV)","fontSize":23,"align":"right","baseline":"alphabetic","dy":-8},"encoding":{"x":{"datum":3.277},"y":{"datum":1.66,"axis":null}}}
]},
{"width": 541, "height": 158, "resolve": {"axis": {"y": "independent"}}, "layer": [
{"data":{"name":"pred"},"transform":[{"filter":"datum.p==3&&datum.s==2"},{"lookup":"b","from":{"data":{"name":"bins"},"key":"b","fields":["x1","x2","xc"]}}],"mark":{"type":"rect","clip":true,"color":"#c84040"},"encoding":{"x":{"field":"x1","type":"quantitative","scale":{"type":"log","domain":[0.0015,3.277],"nice":false},"axis":{"values":[0.002,0.003,0.004,0.005,0.006,0.007,0.008,0.009,0.01,0.02,0.03,0.04,0.05,0.06,0.07,0.08,0.09,0.1,0.2,0.3,0.4,0.5,0.6,0.7,0.8,0.9,1,2,3],"labels":false,"title":null,"tickSize":{"condition":{"test":"datum.value==0.01||datum.value==0.1||datum.value==1","value":-11},"value":-6}}},"x2":{"field":"x2"},"y":{"field":"t1","type":"quantitative","scale":{"domain":[0.7,1.3],"nice":false,"zero":false},"axis":{"orient":"left","values":[0.8,1,1.2],"format":".1f","labelFontSize":20,"labelPadding":14,"tickSize":-11,"title":["Prediction","Measurement"],"titleFontSize":17,"titleLineHeight":18,"titlePadding":6}},"y2":{"field":"t2"}}},
{"data":{"name":"pred"},"transform":[{"filter":"datum.p==3&&datum.s==2"},{"lookup":"b","from":{"data":{"name":"bins"},"key":"b","fields":["x1","x2","xc"]}}],"mark":{"type":"rect","clip":true,"color":"#ff6666"},"encoding":{"x":{"field":"x1","type":"quantitative"},"x2":{"field":"x2"},"y":{"field":"a1","type":"quantitative","axis":{"orient":"left","values":[0.75,0.85,0.9,0.95,1.05,1.1,1.15,1.25],"labels":false,"title":null,"tickSize":-6}},"y2":{"field":"a2"}}},
{"data":{"name":"pred"},"transform":[{"filter":"datum.p==3&&datum.s==2"},{"lookup":"b","from":{"data":{"name":"bins"},"key":"b","fields":["x1","x2","xc"]}}],"mark":{"type":"rect","clip":true,"filled":false,"color":"#a00000","strokeWidth":1.6},"encoding":{"x":{"field":"x1","type":"quantitative"},"x2":{"field":"x2"},"y":{"field":"t1","type":"quantitative","axis":null},"y2":{"field":"t2"}}},
{"data":{"name":"meas"},"transform":[{"filter":"datum.s==2"},{"lookup":"b","from":{"data":{"name":"bins"},"key":"b","fields":["x1","x2","xc"]}}],"mark":{"type":"rect","clip":true,"color":"#000000","opacity":0.3},"encoding":{"x":{"field":"x1","type":"quantitative"},"x2":{"field":"x2"},"y":{"field":"g1","type":"quantitative","axis":null},"y2":{"field":"g2"}}},
{"data":{"values":[{}]},"mark":{"type":"rect","color":"#ffffff","opacity":0.65},"encoding":{"x":{"datum":0.0016},"x2":{"datum":0.034},"y":{"datum":1.075,"axis":null},"y2":{"datum":1.3}}},
{"data":{"values":[{}]},"mark":{"type":"rule","color":"#000000","strokeWidth":1.5},"encoding":{"y":{"datum":1,"axis":null}}},
{"data":{"name":"meas"},"transform":[{"filter":"datum.s==2"},{"lookup":"b","from":{"data":{"name":"bins"},"key":"b","fields":["x1","x2","xc"]}}],"mark":{"type":"rule","color":"#000000","strokeWidth":1.5},"encoding":{"x":{"field":"xc","type":"quantitative"},"y":{"field":"e1","type":"quantitative","axis":null},"y2":{"field":"e2"}}},
{"data":{"name":"meas"},"transform":[{"filter":"datum.s==2"},{"lookup":"b","from":{"data":{"name":"bins"},"key":"b","fields":["x1","x2","xc"]}},{"fold":["e1","e2"],"as":["k","ev"]}],"mark":{"type":"tick","orient":"horizontal","size":7,"thickness":1.5,"color":"#000000","opacity":1},"encoding":{"x":{"field":"xc","type":"quantitative"},"y":{"field":"ev","type":"quantitative","axis":null}}},
{"data":{"name":"meas"},"transform":[{"filter":"datum.s==2"},{"lookup":"b","from":{"data":{"name":"bins"},"key":"b","fields":["x1","x2","xc"]}}],"mark":{"type":"square","color":"#000000","size":16,"opacity":1},"encoding":{"x":{"field":"xc","type":"quantitative"},"y":{"datum":1,"axis":null}}},
{"data":{"values":[{}]},"mark":{"type":"text","text":"106 < mₗₗ < 170 GeV","fontSize":20,"align":"center","baseline":"alphabetic"},"encoding":{"x":{"datum":0.00731},"y":{"datum":1.2085,"axis":null}}},
{"data":{"values":[{}]},"mark":{"type":"text","text":"76 < mₗₗ < 106 GeV","fontSize":20,"align":"center","baseline":"alphabetic"},"encoding":{"x":{"datum":0.00731},"y":{"datum":1.115,"axis":null}}},
{"data":{"values":[{}]},"mark":{"type":"rule","color":"#000000","strokeWidth":1.5},"encoding":{"x":{"datum":0.00197},"x2":{"datum":0.0271},"y":{"datum":1.18,"axis":null}}},
{"data":{"values":[{}]},"mark":{"type":"rule","color":"#000000","strokeWidth":1.2},"encoding":{"x":{"datum":0.0007},"y":{"datum":0.795,"axis":null},"y2":{"datum":1.193}}}
]},
{"width": 541, "height": 158, "resolve": {"axis": {"y": "independent"}}, "layer": [
{"data":{"name":"pred"},"transform":[{"filter":"datum.p==3&&datum.s==3"},{"lookup":"b","from":{"data":{"name":"bins"},"key":"b","fields":["x1","x2","xc"]}}],"mark":{"type":"rect","clip":true,"color":"#c84040"},"encoding":{"x":{"field":"x1","type":"quantitative","scale":{"type":"log","domain":[0.0015,3.277],"nice":false},"axis":{"values":[0.002,0.003,0.004,0.005,0.006,0.007,0.008,0.009,0.01,0.02,0.03,0.04,0.05,0.06,0.07,0.08,0.09,0.1,0.2,0.3,0.4,0.5,0.6,0.7,0.8,0.9,1,2,3],"labels":false,"title":null,"tickSize":{"condition":{"test":"datum.value==0.01||datum.value==0.1||datum.value==1","value":-11},"value":-6}}},"x2":{"field":"x2"},"y":{"field":"t1","type":"quantitative","scale":{"domain":[0.7,1.3],"nice":false,"zero":false},"axis":{"orient":"left","values":[0.8,1,1.2],"format":".1f","labelFontSize":20,"labelPadding":14,"tickSize":-11,"title":["Prediction","Measurement"],"titleFontSize":17,"titleLineHeight":18,"titlePadding":6}},"y2":{"field":"t2"}}},
{"data":{"name":"pred"},"transform":[{"filter":"datum.p==3&&datum.s==3"},{"lookup":"b","from":{"data":{"name":"bins"},"key":"b","fields":["x1","x2","xc"]}}],"mark":{"type":"rect","clip":true,"color":"#ff6666"},"encoding":{"x":{"field":"x1","type":"quantitative"},"x2":{"field":"x2"},"y":{"field":"a1","type":"quantitative","axis":{"orient":"left","values":[0.75,0.85,0.9,0.95,1.05,1.1,1.15,1.25],"labels":false,"title":null,"tickSize":-6}},"y2":{"field":"a2"}}},
{"data":{"name":"pred"},"transform":[{"filter":"datum.p==3&&datum.s==3"},{"lookup":"b","from":{"data":{"name":"bins"},"key":"b","fields":["x1","x2","xc"]}}],"mark":{"type":"rect","clip":true,"filled":false,"color":"#a00000","strokeWidth":1.6},"encoding":{"x":{"field":"x1","type":"quantitative"},"x2":{"field":"x2"},"y":{"field":"t1","type":"quantitative","axis":null},"y2":{"field":"t2"}}},
{"data":{"name":"meas"},"transform":[{"filter":"datum.s==3"},{"lookup":"b","from":{"data":{"name":"bins"},"key":"b","fields":["x1","x2","xc"]}}],"mark":{"type":"rect","clip":true,"color":"#000000","opacity":0.3},"encoding":{"x":{"field":"x1","type":"quantitative"},"x2":{"field":"x2"},"y":{"field":"g1","type":"quantitative","axis":null},"y2":{"field":"g2"}}},
{"data":{"values":[{}]},"mark":{"type":"rect","color":"#ffffff","opacity":0.65},"encoding":{"x":{"datum":0.0016},"x2":{"datum":0.034},"y":{"datum":1.075,"axis":null},"y2":{"datum":1.3}}},
{"data":{"values":[{}]},"mark":{"type":"rule","color":"#000000","strokeWidth":1.5},"encoding":{"y":{"datum":1,"axis":null}}},
{"data":{"name":"meas"},"transform":[{"filter":"datum.s==3"},{"lookup":"b","from":{"data":{"name":"bins"},"key":"b","fields":["x1","x2","xc"]}}],"mark":{"type":"rule","color":"#000000","strokeWidth":1.5},"encoding":{"x":{"field":"xc","type":"quantitative"},"y":{"field":"e1","type":"quantitative","axis":null},"y2":{"field":"e2"}}},
{"data":{"name":"meas"},"transform":[{"filter":"datum.s==3"},{"lookup":"b","from":{"data":{"name":"bins"},"key":"b","fields":["x1","x2","xc"]}},{"fold":["e1","e2"],"as":["k","ev"]}],"mark":{"type":"tick","orient":"horizontal","size":7,"thickness":1.5,"color":"#000000","opacity":1},"encoding":{"x":{"field":"xc","type":"quantitative"},"y":{"field":"ev","type":"quantitative","axis":null}}},
{"data":{"name":"meas"},"transform":[{"filter":"datum.s==3"},{"lookup":"b","from":{"data":{"name":"bins"},"key":"b","fields":["x1","x2","xc"]}}],"mark":{"type":"square","color":"#000000","size":16,"opacity":1},"encoding":{"x":{"field":"xc","type":"quantitative"},"y":{"datum":1,"axis":null}}},
{"data":{"values":[{}]},"mark":{"type":"text","text":"170 < mₗₗ < 350 GeV","fontSize":20,"align":"center","baseline":"alphabetic"},"encoding":{"x":{"datum":0.00731},"y":{"datum":1.2085,"axis":null}}},
{"data":{"values":[{}]},"mark":{"type":"text","text":"76 < mₗₗ < 106 GeV","fontSize":20,"align":"center","baseline":"alphabetic"},"encoding":{"x":{"datum":0.00731},"y":{"datum":1.115,"axis":null}}},
{"data":{"values":[{}]},"mark":{"type":"rule","color":"#000000","strokeWidth":1.5},"encoding":{"x":{"datum":0.00197},"x2":{"datum":0.0271},"y":{"datum":1.18,"axis":null}}},
{"data":{"values":[{}]},"mark":{"type":"rule","color":"#000000","strokeWidth":1.2},"encoding":{"x":{"datum":0.0007},"y":{"datum":0.795,"axis":null},"y2":{"datum":1.193}}}
]},
{"width": 541, "height": 158, "resolve": {"axis": {"y": "independent"}}, "layer": [
{"data":{"name":"pred"},"transform":[{"filter":"datum.p==3&&datum.s==4"},{"lookup":"b","from":{"data":{"name":"bins"},"key":"b","fields":["x1","x2","xc"]}}],"mark":{"type":"rect","clip":true,"color":"#c84040"},"encoding":{"x":{"field":"x1","type":"quantitative","scale":{"type":"log","domain":[0.0015,3.277],"nice":false},"axis":{"values":[0.002,0.003,0.004,0.005,0.006,0.007,0.008,0.009,0.01,0.02,0.03,0.04,0.05,0.06,0.07,0.08,0.09,0.1,0.2,0.3,0.4,0.5,0.6,0.7,0.8,0.9,1,2,3],"labelExpr":"datum.value==0.01?'10⁻²':datum.value==0.1?'10⁻¹':datum.value==1?'10⁰':''","labelFontSize":20,"labelPadding":20,"title":"φ*η","titleFontSize":24,"titleAnchor":"end","titlePadding":2,"tickSize":{"condition":{"test":"datum.value==0.01||datum.value==0.1||datum.value==1","value":-11},"value":-6}}},"x2":{"field":"x2"},"y":{"field":"t1","type":"quantitative","scale":{"domain":[0.7,1.3],"nice":false,"zero":false},"axis":{"orient":"left","values":[0.8,1,1.2],"format":".1f","labelFontSize":20,"labelPadding":14,"tickSize":-11,"title":["Prediction","Measurement"],"titleFontSize":17,"titleLineHeight":18,"titlePadding":6}},"y2":{"field":"t2"}}},
{"data":{"name":"pred"},"transform":[{"filter":"datum.p==3&&datum.s==4"},{"lookup":"b","from":{"data":{"name":"bins"},"key":"b","fields":["x1","x2","xc"]}}],"mark":{"type":"rect","clip":true,"color":"#ff6666"},"encoding":{"x":{"field":"x1","type":"quantitative"},"x2":{"field":"x2"},"y":{"field":"a1","type":"quantitative","axis":{"orient":"left","values":[0.75,0.85,0.9,0.95,1.05,1.1,1.15,1.25],"labels":false,"title":null,"tickSize":-6}},"y2":{"field":"a2"}}},
{"data":{"name":"pred"},"transform":[{"filter":"datum.p==3&&datum.s==4"},{"lookup":"b","from":{"data":{"name":"bins"},"key":"b","fields":["x1","x2","xc"]}}],"mark":{"type":"rect","clip":true,"filled":false,"color":"#a00000","strokeWidth":1.6},"encoding":{"x":{"field":"x1","type":"quantitative"},"x2":{"field":"x2"},"y":{"field":"t1","type":"quantitative","axis":null},"y2":{"field":"t2"}}},
{"data":{"name":"meas"},"transform":[{"filter":"datum.s==4"},{"lookup":"b","from":{"data":{"name":"bins"},"key":"b","fields":["x1","x2","xc"]}}],"mark":{"type":"rect","clip":true,"color":"#000000","opacity":0.3},"encoding":{"x":{"field":"x1","type":"quantitative"},"x2":{"field":"x2"},"y":{"field":"g1","type":"quantitative","axis":null},"y2":{"field":"g2"}}},
{"data":{"values":[{}]},"mark":{"type":"rect","color":"#ffffff","opacity":0.65},"encoding":{"x":{"datum":0.0016},"x2":{"datum":0.034},"y":{"datum":1.075,"axis":null},"y2":{"datum":1.3}}},
{"data":{"values":[{}]},"mark":{"type":"rule","color":"#000000","strokeWidth":1.5},"encoding":{"y":{"datum":1,"axis":null}}},
{"data":{"name":"meas"},"transform":[{"filter":"datum.s==4"},{"lookup":"b","from":{"data":{"name":"bins"},"key":"b","fields":["x1","x2","xc"]}}],"mark":{"type":"rule","color":"#000000","strokeWidth":1.5},"encoding":{"x":{"field":"xc","type":"quantitative"},"y":{"field":"e1","type":"quantitative","axis":null},"y2":{"field":"e2"}}},
{"data":{"name":"meas"},"transform":[{"filter":"datum.s==4"},{"lookup":"b","from":{"data":{"name":"bins"},"key":"b","fields":["x1","x2","xc"]}},{"fold":["e1","e2"],"as":["k","ev"]}],"mark":{"type":"tick","orient":"horizontal","size":7,"thickness":1.5,"color":"#000000","opacity":1},"encoding":{"x":{"field":"xc","type":"quantitative"},"y":{"field":"ev","type":"quantitative","axis":null}}},
{"data":{"name":"meas"},"transform":[{"filter":"datum.s==4"},{"lookup":"b","from":{"data":{"name":"bins"},"key":"b","fields":["x1","x2","xc"]}}],"mark":{"type":"square","color":"#000000","size":16,"opacity":1},"encoding":{"x":{"field":"xc","type":"quantitative"},"y":{"datum":1,"axis":null}}},
{"data":{"values":[{}]},"mark":{"type":"text","text":"350 < mₗₗ < 1000 GeV","fontSize":20,"align":"center","baseline":"alphabetic"},"encoding":{"x":{"datum":0.008},"y":{"datum":1.2085,"axis":null}}},
{"data":{"values":[{}]},"mark":{"type":"text","text":"76 < mₗₗ < 106 GeV","fontSize":20,"align":"center","baseline":"alphabetic"},"encoding":{"x":{"datum":0.008},"y":{"datum":1.115,"axis":null}}},
{"data":{"values":[{}]},"mark":{"type":"rule","color":"#000000","strokeWidth":1.5},"encoding":{"x":{"datum":0.00198},"x2":{"datum":0.0324},"y":{"datum":1.18,"axis":null}}},
{"data":{"values":[{}]},"mark":{"type":"rule","color":"#000000","strokeWidth":1.2},"encoding":{"x":{"datum":0.0007},"y":{"datum":0.795,"axis":null},"y2":{"datum":1.193}}}
]}
], "spacing": 5, "resolve": {"scale": {"fill": "independent", "stroke": "independent"}, "legend": {"fill": "independent", "stroke": "independent"}}}
]
}
